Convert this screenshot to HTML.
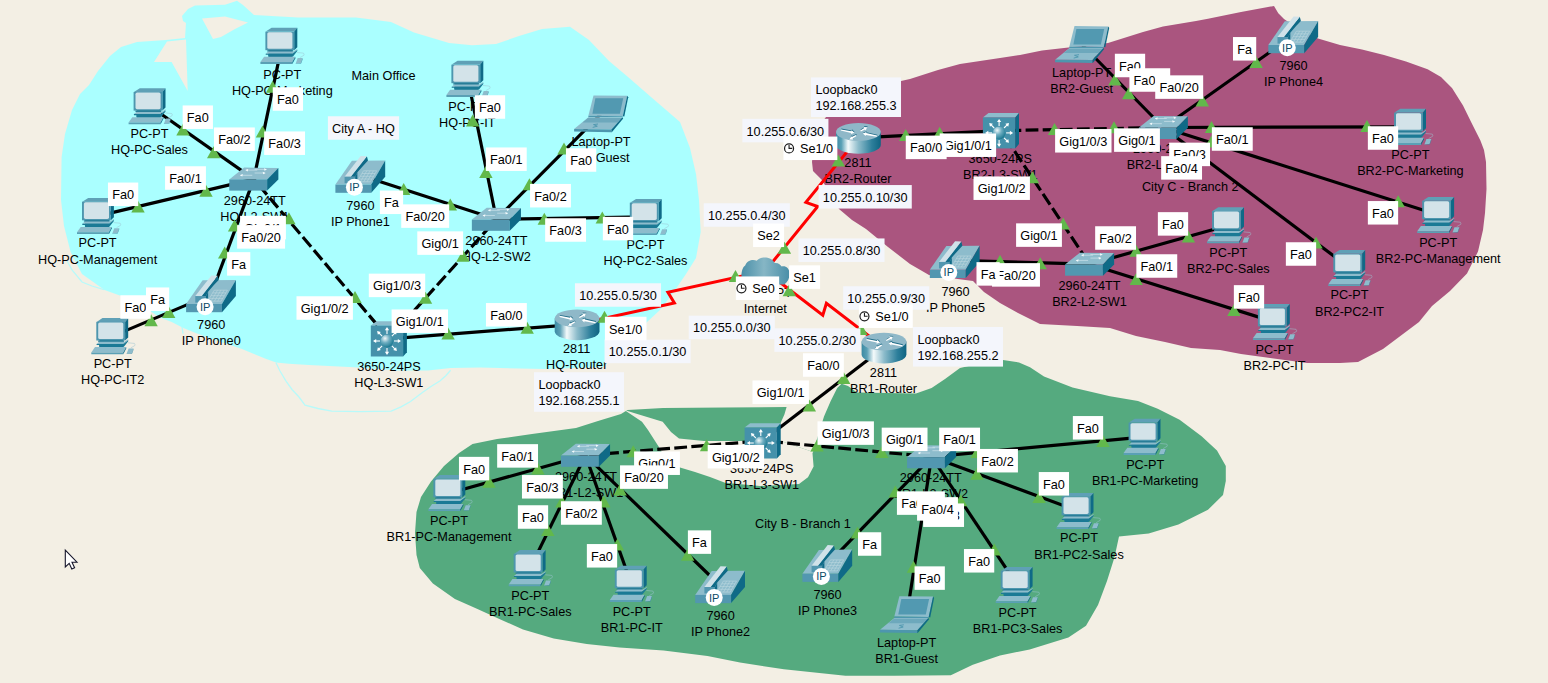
<!DOCTYPE html><html><head><meta charset="utf-8"><title>Topology</title><style>html,body{margin:0;padding:0;background:#f3efe4;overflow:hidden}body{width:1548px;height:683px;position:relative;font-family:"Liberation Sans",sans-serif;font-size:12.7px;color:#000}svg{position:absolute;left:0;top:0}svg text{font-family:"Liberation Sans",sans-serif}</style></head><body>
<svg width="1548" height="683" viewBox="0 0 1548 683">
<defs>
<linearGradient id="gfront" x1="0" y1="0" x2="1" y2="0"><stop offset="0" stop-color="#6da3b8"/><stop offset="1" stop-color="#4c8aa4"/></linearGradient>
<linearGradient id="grt" x1="0" y1="0" x2="1" y2="0"><stop offset="0" stop-color="#3b8aa3"/><stop offset="0.12" stop-color="#5aa0b5"/><stop offset="0.27" stop-color="#f4fafb"/><stop offset="0.5" stop-color="#8dbccb"/><stop offset="0.8" stop-color="#2d7f9b"/><stop offset="1" stop-color="#0f6482"/></linearGradient>
<linearGradient id="gcl" x1="0" y1="0" x2="1" y2="0"><stop offset="0" stop-color="#4a8fa8"/><stop offset="0.47" stop-color="#86b6c5"/><stop offset="1" stop-color="#4a8fa8"/></linearGradient>
<radialGradient id="gsph" cx="0.35" cy="0.3" r="0.75"><stop offset="0" stop-color="#f2f8fa"/><stop offset="0.45" stop-color="#6faec1"/><stop offset="1" stop-color="#17768f"/></radialGradient>
</defs>
<polygon points="188,9 195,5.6 225,4.8 237,0.8 243,5 254,15 298,17.4 356,17.4 391,22 414,32.6 449,43 472,45.3 496,44 519,36 542,29 570,26.7 589,40 609,61 628,77 651,97 680,122 690,148 696,174 699,200 700.7,232 696,258 686,274 673,293 660,310 647,322 630,340 615,355 603,367 545,369 480,367.5 450.6,368 428,370.5 398.6,370.5 354,367.3 309,365 288.8,363.8 276,362.6 265,358.5 254,354 242,349 230,345 215,340 195,332.8 183.4,328 171.7,322 160,317.6 150,311 140,305 124,297 104.5,290 82,274 70.6,252 64,226 61,200 61.6,157 65,134 72,110 80,94 89,85 98,71 110,56 121,47 137,42 166,40 185,38 186,23 183,21 182,16" fill="#aaffff" />
<polygon points="1020,55 1042,50.6 1108,43 1143,32 1163,26.5 1196,21 1208,18.7 1241,12 1274,6 1278.3,13.2 1284,19 1300,30 1318,38.4 1340,45 1362,49.4 1384,55 1406,61.5 1427.6,69.2 1441,77 1452,88 1463,105.4 1471.6,123 1480.4,140.6 1484,150 1486,162 1486.5,189 1485,213 1483,230 1478,251.5 1467,273.5 1450,291 1432,306 1419,322 1399,337 1383,349 1358,362 1340,363 1307,363 1241,354 1220,350 1191,348 1165,342 1136,336 1110,328 1077,326 1040,324 1018,313 1000,303 984,292 973,281 950,278 929,275 910,264 888,247 866,229 852,220 839,209 822,180 813,171 812,162 814,140 820,125 826,117 835,105 860,92 901,81 910,79 938,70 960,64 1000,58" fill="#aa557f" />
<polygon points="416.5,512 421,497 431,481.5 444,466 459,453 472.5,444 497,439 532,434 576,428 598,421 621,414 627.5,410 663,408 725,407.5 786.6,407 784.4,414.4 780.5,423.2 781,441 813,452 824,416.6 830.6,401.3 837.2,388.1 841.6,383.7 848,386 857,392.5 916,393.6 931.6,388 945,379 960,368 982,363 1003,360 1019,362.5 1030,367.2 1044,376.4 1072.5,387.4 1110,396.2 1138,401 1157.7,408.8 1179.6,419.8 1201.6,436.2 1217,450.5 1225.8,465.9 1225.8,481.3 1226,480 1223,495 1208,509.7 1178.4,524.6 1148.7,533.5 1119,536.5 1114.5,557.3 1107,581 1098,605 1086,625.7 1068.4,637.6 1029.7,649.5 1000,655.4 972.8,664.8 950.8,675.3 893.7,675.8 845.4,675.8 783.9,669.2 740,662.6 707.5,656 663.6,650.5 619.6,647.6 586.7,643.9 553.7,638.4 523,629.6 498.8,618.7 476.9,608.8 454.9,598.9 432.9,583.5 419.8,568.1 416.5,555 415,533" fill="#55aa7f" />
<polygon points="745,441 704,441 679,438.6 671,432 662.7,421.7 634,413 624.4,410 642,421.7 648,430 654.4,440 658.6,446.5 665,458 680,467.5 695,472 710,477 725,482.7 760,486 799,483.9 808,477.3 813.6,466.4 812.5,453.2 813,452 781,441 781,423 770,441" fill="#f3efe4" />
<polygon points="167,41.5 154,62 171.6,62 187.7,91 186,39.5" fill="#f3efe4" />
<polygon points="202,18.5 225,16.5 248,22.5 235,29 221,37 213,39" fill="#f3efe4" />
<polyline points="66.6,260 72,270 82,282 92,286 104,289.7" fill="none" stroke="#b8fafa" stroke-width="1.3"/>
<polyline points="182,327 183,333.6" fill="none" stroke="#b8fafa" stroke-width="1.3"/>
<polyline points="276,362.8 280,371 285.7,380.7 292,389.5 299,397 305,405.2 318,408.5 331.7,411.1 360,411.6 391.2,411.1 401,406.8 410.5,401.5 422.4,392.5 431,386.5 440.2,380.7 446,375.5 450.6,370.3" fill="none" stroke="#b8fafa" stroke-width="1.3"/>
<g font-size="12.7" text-anchor="middle" fill="#000">
<text x="282.3" y="78.5">PC-PT</text>
<text x="282.3" y="94.5">HQ-PC-Marketing</text>
<text x="149.5" y="137.8">PC-PT</text>
<text x="149.5" y="154.2">HQ-PC-Sales</text>
<text x="97.6" y="247.4">PC-PT</text>
<text x="97.6" y="264.1">HQ-PC-Management</text>
<text x="112.7" y="367.9">PC-PT</text>
<text x="112.7" y="384.4">HQ-PC-IT2</text>
<text x="211.2" y="328.8">7960</text>
<text x="211.2" y="345.2">IP Phone0</text>
<text x="254.8" y="205.2">2960-24TT</text>
<text x="254.8" y="221.2">HQ-L2-SW1</text>
<text x="360.4" y="209.6">7960</text>
<text x="360.4" y="226.1">IP Phone1</text>
<text x="467.3" y="111.0">PC-PT</text>
<text x="467.3" y="127.0">HQ-PC-IT</text>
<text x="601" y="146.2">Laptop-PT</text>
<text x="601" y="162.2">HQ-Guest</text>
<text x="496.4" y="244.8">2960-24TT</text>
<text x="496.4" y="261.2">HQ-L2-SW2</text>
<text x="645.5" y="249.2">PC-PT</text>
<text x="645.5" y="265.2">HQ-PC2-Sales</text>
<text x="388.9" y="370.8">3650-24PS</text>
<text x="388.9" y="387.2">HQ-L3-SW1</text>
<text x="576.7" y="353.1">2811</text>
<text x="576.7" y="369.2">HQ-Router</text>
<text x="765.3" y="297.2">Cloud-PT</text>
<text x="765.3" y="313.4">Internet</text>
<text x="858" y="166.8">2811</text>
<text x="858" y="183.3">BR2-Router</text>
<text x="883.5" y="376.9">2811</text>
<text x="883.5" y="393.1">BR1-Router</text>
<text x="1000.3" y="162.7">3650-24PS</text>
<text x="1000.3" y="178.7">BR2-L3-SW1</text>
<text x="1164" y="152.8">2960-24TT</text>
<text x="1164" y="168.9">BR2-L2-SW2</text>
<text x="1081.7" y="77.2">Laptop-PT</text>
<text x="1081.7" y="93.2">BR2-Guest</text>
<text x="1293.5" y="69.5">7960</text>
<text x="1293.5" y="85.5">IP Phone4</text>
<text x="1410.4" y="158.8">PC-PT</text>
<text x="1410.4" y="175.4">BR2-PC-Marketing</text>
<text x="1438.2" y="246.9">PC-PT</text>
<text x="1438.2" y="263.1">BR2-PC-Management</text>
<text x="1349.5" y="299.4">PC-PT</text>
<text x="1349.5" y="315.9">BR2-PC2-IT</text>
<text x="1228.3" y="256.8">PC-PT</text>
<text x="1228.3" y="273.2">BR2-PC-Sales</text>
<text x="1089.5" y="290.1">2960-24TT</text>
<text x="1089.5" y="306.1">BR2-L2-SW1</text>
<text x="955.5" y="295.8">7960</text>
<text x="955.5" y="312.2">IP Phone5</text>
<text x="1274.6" y="353.6">PC-PT</text>
<text x="1274.6" y="370.1">BR2-PC-IT</text>
<text x="761.8" y="473.1">3650-24PS</text>
<text x="761.8" y="489.1">BR1-L3-SW1</text>
<text x="586" y="480.6">2960-24TT</text>
<text x="586" y="497.1">BR1-L2-SW1</text>
<text x="930.8" y="481.9">2960-24TT</text>
<text x="930.8" y="498.4">BR1-L2-SW2</text>
<text x="449" y="524.5">PC-PT</text>
<text x="449" y="541.0">BR1-PC-Management</text>
<text x="530.3" y="599.5">PC-PT</text>
<text x="530.3" y="616.0">BR1-PC-Sales</text>
<text x="631.7" y="615.6">PC-PT</text>
<text x="631.7" y="632.0">BR1-PC-IT</text>
<text x="720.6" y="619.5">7960</text>
<text x="720.6" y="635.9">IP Phone2</text>
<text x="827.5" y="598.5">7960</text>
<text x="827.5" y="614.5">IP Phone3</text>
<text x="906.6" y="646.9">Laptop-PT</text>
<text x="906.6" y="662.9">BR1-Guest</text>
<text x="1017.6" y="616.8">PC-PT</text>
<text x="1017.6" y="632.8">BR1-PC3-Sales</text>
<text x="1079" y="542.4">PC-PT</text>
<text x="1079" y="558.9">BR1-PC2-Sales</text>
<text x="1145.2" y="468.8">PC-PT</text>
<text x="1145.2" y="485.2">BR1-PC-Marketing</text>
</g>
<line x1="281.8" y1="45.8" x2="253.8" y2="179.1" stroke="#000" stroke-width="3.2"/>
<line x1="150" y1="106.2" x2="253.8" y2="179.1" stroke="#000" stroke-width="3.2"/>
<line x1="98.4" y1="215.9" x2="253.8" y2="179.1" stroke="#000" stroke-width="3.2"/>
<line x1="211" y1="294.6" x2="253.8" y2="179.1" stroke="#000" stroke-width="3.2"/>
<line x1="112.7" y1="336.1" x2="211" y2="294.6" stroke="#000" stroke-width="3.2"/>
<line x1="253.8" y1="179.1" x2="388.9" y2="338.8" stroke="#000" stroke-width="3.2" stroke-dasharray="12.8,4.3" stroke-dashoffset="9.6"/>
<line x1="496.4" y1="219.3" x2="388.9" y2="338.8" stroke="#000" stroke-width="3.2" stroke-dasharray="12.8,4.3" stroke-dashoffset="9.6"/>
<line x1="360.3" y1="175.2" x2="496.4" y2="219.3" stroke="#000" stroke-width="3.2"/>
<line x1="467.8" y1="78.8" x2="496.4" y2="219.3" stroke="#000" stroke-width="3.2"/>
<line x1="601" y1="113.8" x2="496.4" y2="219.3" stroke="#000" stroke-width="3.2"/>
<line x1="646.2" y1="216.9" x2="496.4" y2="219.3" stroke="#000" stroke-width="3.2"/>
<line x1="388.9" y1="338.8" x2="577.1" y2="324.3" stroke="#000" stroke-width="3.2"/>
<polyline points="577.1,324.3 674.4,303.0 667.9,292.3 765.2,271" fill="none" stroke="#ff0000" stroke-width="3" stroke-linejoin="miter"/>
<polyline points="765.2,271 817.7,206.5 805.9,202.4 858.4,137.9" fill="none" stroke="#ff0000" stroke-width="3" stroke-linejoin="miter"/>
<polyline points="765.2,271 822.8,315.2 826.4,303.3 884,347.5" fill="none" stroke="#ff0000" stroke-width="3" stroke-linejoin="miter"/>
<line x1="858.4" y1="137.9" x2="1001" y2="130.7" stroke="#000" stroke-width="3.2"/>
<line x1="1001" y1="130.7" x2="1163.3" y2="127.5" stroke="#000" stroke-width="3.2" stroke-dasharray="12.8,4.3" stroke-dashoffset="9.6"/>
<line x1="1001" y1="130.7" x2="1089.6" y2="264.2" stroke="#000" stroke-width="3.2" stroke-dasharray="12.8,4.3" stroke-dashoffset="9.6"/>
<line x1="1082" y1="44.5" x2="1163.3" y2="127.5" stroke="#000" stroke-width="3.2"/>
<line x1="1293.2" y1="35.6" x2="1163.3" y2="127.5" stroke="#000" stroke-width="3.2"/>
<line x1="1410.5" y1="126.8" x2="1163.3" y2="127.5" stroke="#000" stroke-width="3.2"/>
<line x1="1438.6" y1="214.9" x2="1163.3" y2="127.5" stroke="#000" stroke-width="3.2"/>
<line x1="1349.7" y1="268" x2="1163.3" y2="127.5" stroke="#000" stroke-width="3.2"/>
<line x1="954.7" y1="260.4" x2="1089.6" y2="264.2" stroke="#000" stroke-width="3.2"/>
<line x1="1228.5" y1="225.2" x2="1089.6" y2="264.2" stroke="#000" stroke-width="3.2"/>
<line x1="1274.3" y1="322" x2="1089.6" y2="264.2" stroke="#000" stroke-width="3.2"/>
<line x1="884" y1="347.5" x2="762.7" y2="440.8" stroke="#000" stroke-width="3.2"/>
<line x1="762.7" y1="440.8" x2="585.5" y2="455.3" stroke="#000" stroke-width="3.2" stroke-dasharray="12.8,4.3" stroke-dashoffset="9.6"/>
<line x1="762.7" y1="440.8" x2="931.6" y2="456.8" stroke="#000" stroke-width="3.2" stroke-dasharray="12.8,4.3" stroke-dashoffset="9.6"/>
<line x1="449.8" y1="493" x2="585.5" y2="455.3" stroke="#000" stroke-width="3.2"/>
<line x1="530.1" y1="568.1" x2="585.5" y2="455.3" stroke="#000" stroke-width="3.2"/>
<line x1="631.2" y1="583.8" x2="585.5" y2="455.3" stroke="#000" stroke-width="3.2"/>
<line x1="720.1" y1="585.5" x2="585.5" y2="455.3" stroke="#000" stroke-width="3.2"/>
<line x1="827.3" y1="564.3" x2="931.6" y2="456.8" stroke="#000" stroke-width="3.2"/>
<line x1="906.9" y1="614.6" x2="931.6" y2="456.8" stroke="#000" stroke-width="3.2"/>
<line x1="1017.1" y1="584.9" x2="931.6" y2="456.8" stroke="#000" stroke-width="3.2"/>
<line x1="1078" y1="510.9" x2="931.6" y2="456.8" stroke="#000" stroke-width="3.2"/>
<line x1="1145" y1="436.8" x2="931.6" y2="456.8" stroke="#000" stroke-width="3.2"/>
<g transform="translate(281.8,45.8)"><g transform="translate(0.7,0)"><rect x="-14" y="3" width="24" height="9" fill="#1b7a95"/><polygon points="-16.8,-14.2 -10.9,-18 14.8,-18 11.7,-14.2" fill="#5fa0b6"/><polygon points="11.7,-14.2 14.8,-18 14.8,1.4 11.7,4.4" fill="#0f6a87"/><rect x="-17.1" y="-14.2" width="28.8" height="18.6" fill="#4d96ae"/><rect x="-15.2" y="-13.6" width="25.1" height="16.6" rx="1.6" fill="#d3e3e9"/><rect x="-15.2" y="4.4" width="25.8" height="1.4" fill="#2a7d97"/><polygon points="-16.8,7.9 -14.2,5.7 10.9,5.7 14.8,3.1 14.8,4.2 9.9,7.9" fill="#8dbccc"/><polygon points="-16.8,7.9 9.9,7.9 14.8,4.2 14.8,5.2 10.5,10.7 -14.2,10.7 -14.2,9 -16.8,9" fill="#1b7a95"/><polygon points="-22.1,16.3 -18.4,11 12.8,11 9.9,16.3" fill="#8dbccc"/><polygon points="-22.1,16.3 9.9,16.3 9.9,18.1 -22.1,18.1" fill="#5aa0b5"/><polygon points="9.9,16.3 12.8,11 12.8,12.4 9.9,18.1" fill="#0f6a87"/><polygon points="13.2,17.6 15.2,12.3 20.1,12.3 18.4,17.2" fill="#8dbccc"/><polygon points="18.4,17.2 20.1,12.3 20.1,13.6 18.6,17.6 13.2,17.9 13.2,17.6" fill="#3d8aa4"/><path d="M14.5,6.7 l6.5,0.6 q1,1.2 0.4,2.2 l-4,2.3" fill="none" stroke="#9cc3d2" stroke-width="0.6" opacity="0.85"/></g></g>
<g transform="translate(150,106.2)"><g transform="translate(0.7,0)"><rect x="-14" y="3" width="24" height="9" fill="#1b7a95"/><polygon points="-16.8,-14.2 -10.9,-18 14.8,-18 11.7,-14.2" fill="#5fa0b6"/><polygon points="11.7,-14.2 14.8,-18 14.8,1.4 11.7,4.4" fill="#0f6a87"/><rect x="-17.1" y="-14.2" width="28.8" height="18.6" fill="#4d96ae"/><rect x="-15.2" y="-13.6" width="25.1" height="16.6" rx="1.6" fill="#d3e3e9"/><rect x="-15.2" y="4.4" width="25.8" height="1.4" fill="#2a7d97"/><polygon points="-16.8,7.9 -14.2,5.7 10.9,5.7 14.8,3.1 14.8,4.2 9.9,7.9" fill="#8dbccc"/><polygon points="-16.8,7.9 9.9,7.9 14.8,4.2 14.8,5.2 10.5,10.7 -14.2,10.7 -14.2,9 -16.8,9" fill="#1b7a95"/><polygon points="-22.1,16.3 -18.4,11 12.8,11 9.9,16.3" fill="#8dbccc"/><polygon points="-22.1,16.3 9.9,16.3 9.9,18.1 -22.1,18.1" fill="#5aa0b5"/><polygon points="9.9,16.3 12.8,11 12.8,12.4 9.9,18.1" fill="#0f6a87"/><polygon points="13.2,17.6 15.2,12.3 20.1,12.3 18.4,17.2" fill="#8dbccc"/><polygon points="18.4,17.2 20.1,12.3 20.1,13.6 18.6,17.6 13.2,17.9 13.2,17.6" fill="#3d8aa4"/><path d="M14.5,6.7 l6.5,0.6 q1,1.2 0.4,2.2 l-4,2.3" fill="none" stroke="#9cc3d2" stroke-width="0.6" opacity="0.85"/></g></g>
<g transform="translate(98.4,215.9)"><g transform="translate(0.7,0)"><rect x="-14" y="3" width="24" height="9" fill="#1b7a95"/><polygon points="-16.8,-14.2 -10.9,-18 14.8,-18 11.7,-14.2" fill="#5fa0b6"/><polygon points="11.7,-14.2 14.8,-18 14.8,1.4 11.7,4.4" fill="#0f6a87"/><rect x="-17.1" y="-14.2" width="28.8" height="18.6" fill="#4d96ae"/><rect x="-15.2" y="-13.6" width="25.1" height="16.6" rx="1.6" fill="#d3e3e9"/><rect x="-15.2" y="4.4" width="25.8" height="1.4" fill="#2a7d97"/><polygon points="-16.8,7.9 -14.2,5.7 10.9,5.7 14.8,3.1 14.8,4.2 9.9,7.9" fill="#8dbccc"/><polygon points="-16.8,7.9 9.9,7.9 14.8,4.2 14.8,5.2 10.5,10.7 -14.2,10.7 -14.2,9 -16.8,9" fill="#1b7a95"/><polygon points="-22.1,16.3 -18.4,11 12.8,11 9.9,16.3" fill="#8dbccc"/><polygon points="-22.1,16.3 9.9,16.3 9.9,18.1 -22.1,18.1" fill="#5aa0b5"/><polygon points="9.9,16.3 12.8,11 12.8,12.4 9.9,18.1" fill="#0f6a87"/><polygon points="13.2,17.6 15.2,12.3 20.1,12.3 18.4,17.2" fill="#8dbccc"/><polygon points="18.4,17.2 20.1,12.3 20.1,13.6 18.6,17.6 13.2,17.9 13.2,17.6" fill="#3d8aa4"/><path d="M14.5,6.7 l6.5,0.6 q1,1.2 0.4,2.2 l-4,2.3" fill="none" stroke="#9cc3d2" stroke-width="0.6" opacity="0.85"/></g></g>
<g transform="translate(112.7,336.1)"><g transform="translate(0.7,0)"><rect x="-14" y="3" width="24" height="9" fill="#1b7a95"/><polygon points="-16.8,-14.2 -10.9,-18 14.8,-18 11.7,-14.2" fill="#5fa0b6"/><polygon points="11.7,-14.2 14.8,-18 14.8,1.4 11.7,4.4" fill="#0f6a87"/><rect x="-17.1" y="-14.2" width="28.8" height="18.6" fill="#4d96ae"/><rect x="-15.2" y="-13.6" width="25.1" height="16.6" rx="1.6" fill="#d3e3e9"/><rect x="-15.2" y="4.4" width="25.8" height="1.4" fill="#2a7d97"/><polygon points="-16.8,7.9 -14.2,5.7 10.9,5.7 14.8,3.1 14.8,4.2 9.9,7.9" fill="#8dbccc"/><polygon points="-16.8,7.9 9.9,7.9 14.8,4.2 14.8,5.2 10.5,10.7 -14.2,10.7 -14.2,9 -16.8,9" fill="#1b7a95"/><polygon points="-22.1,16.3 -18.4,11 12.8,11 9.9,16.3" fill="#8dbccc"/><polygon points="-22.1,16.3 9.9,16.3 9.9,18.1 -22.1,18.1" fill="#5aa0b5"/><polygon points="9.9,16.3 12.8,11 12.8,12.4 9.9,18.1" fill="#0f6a87"/><polygon points="13.2,17.6 15.2,12.3 20.1,12.3 18.4,17.2" fill="#8dbccc"/><polygon points="18.4,17.2 20.1,12.3 20.1,13.6 18.6,17.6 13.2,17.9 13.2,17.6" fill="#3d8aa4"/><path d="M14.5,6.7 l6.5,0.6 q1,1.2 0.4,2.2 l-4,2.3" fill="none" stroke="#9cc3d2" stroke-width="0.6" opacity="0.85"/></g></g>
<g transform="translate(211,294.6)"><g transform="translate(0,0.5)"><polygon points="-24.9,8.9 -8.4,-14.9 24.9,-15.2 11,8.9" fill="#8dbccc"/><rect x="-24.9" y="8.9" width="35.9" height="8.2" fill="#5297b0"/><polygon points="11,8.9 24.9,-15.2 24.9,1 11,17.1" fill="#0f6a87"/><polygon points="6.6,-19.4 7.7,-15.2 2.9,-10 -2.9,-3.4 -5.1,1 -9.5,1.1" fill="#0f6a87"/><polygon points="-15.7,1 0.4,-19.7 6.6,-19.4 -9.5,1.1" fill="#d0e2e9"/><polygon points="-15.7,1 -5.1,1 -5.1,7.5 -15.7,7.5" fill="#5297b0"/><polygon points="-5.1,1 -2.9,-3.4 -2.9,4 -5.1,7.5" fill="#0f6a87"/><g stroke="#bcd6df" stroke-width="0.6" fill="none"><line x1="3.2" y1="-4.9" x2="-3.2" y2="6.1"/><line x1="6.5" y1="-4.9" x2="0.1" y2="6.1"/><line x1="9.8" y1="-4.9" x2="3.4" y2="6.1"/><line x1="13.1" y1="-4.9" x2="6.7" y2="6.1"/><line x1="16.4" y1="-4.9" x2="10.0" y2="6.1"/><line x1="3.2" y1="-4.9" x2="16.4" y2="-4.9"/><line x1="1.6" y1="-2.2" x2="14.8" y2="-2.2"/><line x1="0.0" y1="0.6" x2="13.2" y2="0.6"/><line x1="-1.6" y1="3.3" x2="11.6" y2="3.3"/><line x1="-3.2" y1="6.1" x2="10.0" y2="6.1"/></g><circle cx="-5.9" cy="11.6" r="8.5" fill="#ffffff"/><text x="-5.9" y="15.6" font-size="11" text-anchor="middle" fill="#0a4a66" font-family="Liberation Sans, sans-serif">IP</text></g></g>
<g transform="translate(253.8,179.1)"><polygon points="-24.55,0.3 -9.7,-11.55 24.55,-11.2 13.35,0.3" fill="#8dbccc"/><rect x="-24.55" y="0.3" width="37.9" height="11.2" fill="#5297b0"/><polygon points="13.35,0.3 24.55,-11.2 24.55,0.3 13.35,11.5" fill="#0f6a87"/><g stroke="#d9eaf0" stroke-width="0.6" fill="#f4fafc"><line x1="-8" y1="-9.0" x2="3.5" y2="-9.0"/><polygon stroke="none" points="-8.5,-9.0 -5.6,-10.2 -6.1,-7.7"/><line x1="0.8" y1="-9.7" x2="12.6" y2="-9.7"/><polygon stroke="none" points="13.1,-9.7 10.2,-10.9 10.7,-8.4"/><line x1="-13.4" y1="-3.8" x2="-1.5" y2="-3.8"/><polygon stroke="none" points="-13.9,-3.8 -11.0,-5.0 -11.5,-2.5"/><line x1="0.8" y1="-6.1" x2="11.3" y2="-6.1"/><polygon stroke="none" points="11.8,-6.1 8.9,-7.3 9.4,-4.8"/></g></g>
<g transform="translate(360.3,175.2)"><g transform="translate(0,0.5)"><polygon points="-24.9,8.9 -8.4,-14.9 24.9,-15.2 11,8.9" fill="#8dbccc"/><rect x="-24.9" y="8.9" width="35.9" height="8.2" fill="#5297b0"/><polygon points="11,8.9 24.9,-15.2 24.9,1 11,17.1" fill="#0f6a87"/><polygon points="6.6,-19.4 7.7,-15.2 2.9,-10 -2.9,-3.4 -5.1,1 -9.5,1.1" fill="#0f6a87"/><polygon points="-15.7,1 0.4,-19.7 6.6,-19.4 -9.5,1.1" fill="#d0e2e9"/><polygon points="-15.7,1 -5.1,1 -5.1,7.5 -15.7,7.5" fill="#5297b0"/><polygon points="-5.1,1 -2.9,-3.4 -2.9,4 -5.1,7.5" fill="#0f6a87"/><g stroke="#bcd6df" stroke-width="0.6" fill="none"><line x1="3.2" y1="-4.9" x2="-3.2" y2="6.1"/><line x1="6.5" y1="-4.9" x2="0.1" y2="6.1"/><line x1="9.8" y1="-4.9" x2="3.4" y2="6.1"/><line x1="13.1" y1="-4.9" x2="6.7" y2="6.1"/><line x1="16.4" y1="-4.9" x2="10.0" y2="6.1"/><line x1="3.2" y1="-4.9" x2="16.4" y2="-4.9"/><line x1="1.6" y1="-2.2" x2="14.8" y2="-2.2"/><line x1="0.0" y1="0.6" x2="13.2" y2="0.6"/><line x1="-1.6" y1="3.3" x2="11.6" y2="3.3"/><line x1="-3.2" y1="6.1" x2="10.0" y2="6.1"/></g><circle cx="-5.9" cy="11.6" r="8.5" fill="#ffffff"/><text x="-5.9" y="15.6" font-size="11" text-anchor="middle" fill="#0a4a66" font-family="Liberation Sans, sans-serif">IP</text></g></g>
<g transform="translate(467.8,78.8)"><g transform="translate(0.7,0)"><rect x="-14" y="3" width="24" height="9" fill="#1b7a95"/><polygon points="-16.8,-14.2 -10.9,-18 14.8,-18 11.7,-14.2" fill="#5fa0b6"/><polygon points="11.7,-14.2 14.8,-18 14.8,1.4 11.7,4.4" fill="#0f6a87"/><rect x="-17.1" y="-14.2" width="28.8" height="18.6" fill="#4d96ae"/><rect x="-15.2" y="-13.6" width="25.1" height="16.6" rx="1.6" fill="#d3e3e9"/><rect x="-15.2" y="4.4" width="25.8" height="1.4" fill="#2a7d97"/><polygon points="-16.8,7.9 -14.2,5.7 10.9,5.7 14.8,3.1 14.8,4.2 9.9,7.9" fill="#8dbccc"/><polygon points="-16.8,7.9 9.9,7.9 14.8,4.2 14.8,5.2 10.5,10.7 -14.2,10.7 -14.2,9 -16.8,9" fill="#1b7a95"/><polygon points="-22.1,16.3 -18.4,11 12.8,11 9.9,16.3" fill="#8dbccc"/><polygon points="-22.1,16.3 9.9,16.3 9.9,18.1 -22.1,18.1" fill="#5aa0b5"/><polygon points="9.9,16.3 12.8,11 12.8,12.4 9.9,18.1" fill="#0f6a87"/><polygon points="13.2,17.6 15.2,12.3 20.1,12.3 18.4,17.2" fill="#8dbccc"/><polygon points="18.4,17.2 20.1,12.3 20.1,13.6 18.6,17.6 13.2,17.9 13.2,17.6" fill="#3d8aa4"/><path d="M14.5,6.7 l6.5,0.6 q1,1.2 0.4,2.2 l-4,2.3" fill="none" stroke="#9cc3d2" stroke-width="0.6" opacity="0.85"/></g></g>
<g transform="translate(601,113.8)"><polygon points="-7.5,-18.4 26.2,-18.1 21.8,2.4 -12.6,2" fill="#8dbccc"/><polygon points="-5.6,-15.5 22.2,-15.5 18.9,-0.1 -8.6,-0.1" fill="#5299b1"/><polygon points="26.2,-18.1 27.2,-16.6 23.3,2.8 21.8,2.4" fill="#0f6a87"/><polygon points="-12.6,2 21.8,2.4 21.4,3.5 -12.6,3.5" fill="#4d96ae"/><polygon points="-12.6,3.5 21.4,3.5 10.5,15.6 -26.9,15.2" fill="#8dbccc"/><polygon points="-13,4.2 21,4.2 16.3,8.6 -18.4,8.6" fill="#6da8bc"/><polygon points="-26.9,15.2 10.5,15.6 10.5,18.5 -26.9,17.8" fill="#4d96ae"/><polygon points="21.4,3.5 22.2,4.6 10.8,18.5 10.5,18.5 10.5,15.6" fill="#0f6a87"/><path d="M-3,10.2 l-4.5,0.6 l3.8,1.6 l-4.6,1.2" stroke="#4d96ae" stroke-width="0.9" fill="none"/></g>
<g transform="translate(496.4,219.3)"><polygon points="-24.55,0.3 -9.7,-11.55 24.55,-11.2 13.35,0.3" fill="#8dbccc"/><rect x="-24.55" y="0.3" width="37.9" height="11.2" fill="#5297b0"/><polygon points="13.35,0.3 24.55,-11.2 24.55,0.3 13.35,11.5" fill="#0f6a87"/><g stroke="#d9eaf0" stroke-width="0.6" fill="#f4fafc"><line x1="-8" y1="-9.0" x2="3.5" y2="-9.0"/><polygon stroke="none" points="-8.5,-9.0 -5.6,-10.2 -6.1,-7.7"/><line x1="0.8" y1="-9.7" x2="12.6" y2="-9.7"/><polygon stroke="none" points="13.1,-9.7 10.2,-10.9 10.7,-8.4"/><line x1="-13.4" y1="-3.8" x2="-1.5" y2="-3.8"/><polygon stroke="none" points="-13.9,-3.8 -11.0,-5.0 -11.5,-2.5"/><line x1="0.8" y1="-6.1" x2="11.3" y2="-6.1"/><polygon stroke="none" points="11.8,-6.1 8.9,-7.3 9.4,-4.8"/></g></g>
<g transform="translate(646.2,216.9)"><g transform="translate(0.7,0)"><rect x="-14" y="3" width="24" height="9" fill="#1b7a95"/><polygon points="-16.8,-14.2 -10.9,-18 14.8,-18 11.7,-14.2" fill="#5fa0b6"/><polygon points="11.7,-14.2 14.8,-18 14.8,1.4 11.7,4.4" fill="#0f6a87"/><rect x="-17.1" y="-14.2" width="28.8" height="18.6" fill="#4d96ae"/><rect x="-15.2" y="-13.6" width="25.1" height="16.6" rx="1.6" fill="#d3e3e9"/><rect x="-15.2" y="4.4" width="25.8" height="1.4" fill="#2a7d97"/><polygon points="-16.8,7.9 -14.2,5.7 10.9,5.7 14.8,3.1 14.8,4.2 9.9,7.9" fill="#8dbccc"/><polygon points="-16.8,7.9 9.9,7.9 14.8,4.2 14.8,5.2 10.5,10.7 -14.2,10.7 -14.2,9 -16.8,9" fill="#1b7a95"/><polygon points="-22.1,16.3 -18.4,11 12.8,11 9.9,16.3" fill="#8dbccc"/><polygon points="-22.1,16.3 9.9,16.3 9.9,18.1 -22.1,18.1" fill="#5aa0b5"/><polygon points="9.9,16.3 12.8,11 12.8,12.4 9.9,18.1" fill="#0f6a87"/><polygon points="13.2,17.6 15.2,12.3 20.1,12.3 18.4,17.2" fill="#8dbccc"/><polygon points="18.4,17.2 20.1,12.3 20.1,13.6 18.6,17.6 13.2,17.9 13.2,17.6" fill="#3d8aa4"/><path d="M14.5,6.7 l6.5,0.6 q1,1.2 0.4,2.2 l-4,2.3" fill="none" stroke="#9cc3d2" stroke-width="0.6" opacity="0.85"/></g></g>
<g transform="translate(388.9,338.8)"><polygon points="-18.1,-13.3 -12.5,-17.6 18,-17.6 14.2,-13.3" fill="#8dbccc"/><rect x="-18.1" y="-13.3" width="32.3" height="31" fill="#4591aa"/><polygon points="14.2,-13.3 18,-17.6 18,13.4 14.2,17.7" fill="#0f6a87"/><g stroke="#ffffff" stroke-width="1.1" fill="#ffffff"><line x1="5.1" y1="2.2" x2="10.5" y2="2.2"/><polygon stroke="none" points="12.1,2.2 8.9,4.3 8.9,0.1"/><line x1="3.0" y1="7.1" x2="6.9" y2="11.0"/><polygon stroke="none" points="8.0,12.1 4.3,11.3 7.2,8.4"/><line x1="-1.9" y1="9.2" x2="-1.9" y2="14.6"/><polygon stroke="none" points="-1.9,16.2 -4.0,13.0 0.2,13.0"/><line x1="-6.8" y1="7.1" x2="-10.7" y2="11.0"/><polygon stroke="none" points="-11.8,12.1 -11.0,8.4 -8.1,11.3"/><line x1="-8.9" y1="2.2" x2="-14.3" y2="2.2"/><polygon stroke="none" points="-15.9,2.2 -12.7,0.1 -12.7,4.3"/><line x1="-6.8" y1="-2.7" x2="-10.7" y2="-6.6"/><polygon stroke="none" points="-11.8,-7.7 -8.1,-6.9 -11.0,-4.0"/><line x1="-1.9" y1="-4.8" x2="-1.9" y2="-10.2"/><polygon stroke="none" points="-1.9,-11.8 0.2,-8.6 -4.0,-8.6"/><line x1="3.0" y1="-2.7" x2="6.9" y2="-6.6"/><polygon stroke="none" points="8.0,-7.7 7.2,-4.0 4.3,-6.9"/></g><circle cx="-1.9" cy="2.2" r="6.4" fill="url(#gsph)"/></g>
<g transform="translate(577.1,324.3)"><g transform="translate(0,0.5)"><path d="M-22.4,-6.4 v12.9 a22.4,8.9 0 0 0 44.8,0 v-12.9 z" fill="url(#grt)"/><ellipse cx="0" cy="-6.4" rx="22.4" ry="8.9" fill="#8fb8c8"/><polygon points="-17.6,-9.0 -7.3,-6.6 -7.5,-5.5 -4.0,-6.8 -6.7,-9.4 -7.0,-8.3 -17.4,-10.2" fill="#246f8a" transform="translate(0.3,0.3)"/><polygon points="18.6,-4.0 7.8,-6.5 8.0,-7.5 4.5,-6.2 7.2,-3.6 7.5,-4.7 18.4,-2.8" fill="#246f8a" transform="translate(0.3,0.3)"/><polygon points="2.5,-8.1 6.6,-10.1 7.2,-9.1 9.0,-12.4 5.2,-12.6 5.8,-11.6 1.9,-9.1" fill="#246f8a" transform="translate(0.3,0.3)"/><polygon points="-2.5,-4.7 -6.7,-2.6 -7.2,-3.5 -9.0,-0.2 -5.2,-0.1 -5.8,-1.0 -1.9,-3.7" fill="#246f8a" transform="translate(0.3,0.3)"/><polygon points="-17.6,-9.0 -7.3,-6.6 -7.5,-5.5 -4.0,-6.8 -6.7,-9.4 -7.0,-8.3 -17.4,-10.2" fill="#ffffff" transform="translate(0,1.2)"/><polygon points="18.6,-4.0 7.8,-6.5 8.0,-7.5 4.5,-6.2 7.2,-3.6 7.5,-4.7 18.4,-2.8" fill="#ffffff" transform="translate(0,1.2)"/><polygon points="2.5,-8.1 6.6,-10.1 7.2,-9.1 9.0,-12.4 5.2,-12.6 5.8,-11.6 1.9,-9.1" fill="#ffffff" transform="translate(0,1.2)"/><polygon points="-2.5,-4.7 -6.7,-2.6 -7.2,-3.5 -9.0,-0.2 -5.2,-0.1 -5.8,-1.0 -1.9,-3.7" fill="#ffffff" transform="translate(0,1.2)"/></g></g>
<g transform="translate(765.2,271)"><path d="M-21,13.5 C-25,10 -24.5,-3 -20,-5.5 C-18,-11 -12,-12 -8.5,-10.3 C-5,-15 6,-15 9.5,-8 C13,-8.5 15.5,-6 16.5,-4.5 C21,-5.5 24.5,-2 24,2 C24.5,7 23,11 19,13.5 Z" fill="url(#gcl)"/></g>
<g transform="translate(858.4,137.9)"><g transform="translate(0,0.5)"><path d="M-22.4,-6.4 v12.9 a22.4,8.9 0 0 0 44.8,0 v-12.9 z" fill="url(#grt)"/><ellipse cx="0" cy="-6.4" rx="22.4" ry="8.9" fill="#8fb8c8"/><polygon points="-17.6,-9.0 -7.3,-6.6 -7.5,-5.5 -4.0,-6.8 -6.7,-9.4 -7.0,-8.3 -17.4,-10.2" fill="#246f8a" transform="translate(0.3,0.3)"/><polygon points="18.6,-4.0 7.8,-6.5 8.0,-7.5 4.5,-6.2 7.2,-3.6 7.5,-4.7 18.4,-2.8" fill="#246f8a" transform="translate(0.3,0.3)"/><polygon points="2.5,-8.1 6.6,-10.1 7.2,-9.1 9.0,-12.4 5.2,-12.6 5.8,-11.6 1.9,-9.1" fill="#246f8a" transform="translate(0.3,0.3)"/><polygon points="-2.5,-4.7 -6.7,-2.6 -7.2,-3.5 -9.0,-0.2 -5.2,-0.1 -5.8,-1.0 -1.9,-3.7" fill="#246f8a" transform="translate(0.3,0.3)"/><polygon points="-17.6,-9.0 -7.3,-6.6 -7.5,-5.5 -4.0,-6.8 -6.7,-9.4 -7.0,-8.3 -17.4,-10.2" fill="#ffffff" transform="translate(0,1.2)"/><polygon points="18.6,-4.0 7.8,-6.5 8.0,-7.5 4.5,-6.2 7.2,-3.6 7.5,-4.7 18.4,-2.8" fill="#ffffff" transform="translate(0,1.2)"/><polygon points="2.5,-8.1 6.6,-10.1 7.2,-9.1 9.0,-12.4 5.2,-12.6 5.8,-11.6 1.9,-9.1" fill="#ffffff" transform="translate(0,1.2)"/><polygon points="-2.5,-4.7 -6.7,-2.6 -7.2,-3.5 -9.0,-0.2 -5.2,-0.1 -5.8,-1.0 -1.9,-3.7" fill="#ffffff" transform="translate(0,1.2)"/></g></g>
<g transform="translate(884,347.5)"><g transform="translate(0,0.5)"><path d="M-22.4,-6.4 v12.9 a22.4,8.9 0 0 0 44.8,0 v-12.9 z" fill="url(#grt)"/><ellipse cx="0" cy="-6.4" rx="22.4" ry="8.9" fill="#8fb8c8"/><polygon points="-17.6,-9.0 -7.3,-6.6 -7.5,-5.5 -4.0,-6.8 -6.7,-9.4 -7.0,-8.3 -17.4,-10.2" fill="#246f8a" transform="translate(0.3,0.3)"/><polygon points="18.6,-4.0 7.8,-6.5 8.0,-7.5 4.5,-6.2 7.2,-3.6 7.5,-4.7 18.4,-2.8" fill="#246f8a" transform="translate(0.3,0.3)"/><polygon points="2.5,-8.1 6.6,-10.1 7.2,-9.1 9.0,-12.4 5.2,-12.6 5.8,-11.6 1.9,-9.1" fill="#246f8a" transform="translate(0.3,0.3)"/><polygon points="-2.5,-4.7 -6.7,-2.6 -7.2,-3.5 -9.0,-0.2 -5.2,-0.1 -5.8,-1.0 -1.9,-3.7" fill="#246f8a" transform="translate(0.3,0.3)"/><polygon points="-17.6,-9.0 -7.3,-6.6 -7.5,-5.5 -4.0,-6.8 -6.7,-9.4 -7.0,-8.3 -17.4,-10.2" fill="#ffffff" transform="translate(0,1.2)"/><polygon points="18.6,-4.0 7.8,-6.5 8.0,-7.5 4.5,-6.2 7.2,-3.6 7.5,-4.7 18.4,-2.8" fill="#ffffff" transform="translate(0,1.2)"/><polygon points="2.5,-8.1 6.6,-10.1 7.2,-9.1 9.0,-12.4 5.2,-12.6 5.8,-11.6 1.9,-9.1" fill="#ffffff" transform="translate(0,1.2)"/><polygon points="-2.5,-4.7 -6.7,-2.6 -7.2,-3.5 -9.0,-0.2 -5.2,-0.1 -5.8,-1.0 -1.9,-3.7" fill="#ffffff" transform="translate(0,1.2)"/></g></g>
<g transform="translate(1001,130.7)"><polygon points="-18.1,-13.3 -12.5,-17.6 18,-17.6 14.2,-13.3" fill="#8dbccc"/><rect x="-18.1" y="-13.3" width="32.3" height="31" fill="#4591aa"/><polygon points="14.2,-13.3 18,-17.6 18,13.4 14.2,17.7" fill="#0f6a87"/><g stroke="#ffffff" stroke-width="1.1" fill="#ffffff"><line x1="5.1" y1="2.2" x2="10.5" y2="2.2"/><polygon stroke="none" points="12.1,2.2 8.9,4.3 8.9,0.1"/><line x1="3.0" y1="7.1" x2="6.9" y2="11.0"/><polygon stroke="none" points="8.0,12.1 4.3,11.3 7.2,8.4"/><line x1="-1.9" y1="9.2" x2="-1.9" y2="14.6"/><polygon stroke="none" points="-1.9,16.2 -4.0,13.0 0.2,13.0"/><line x1="-6.8" y1="7.1" x2="-10.7" y2="11.0"/><polygon stroke="none" points="-11.8,12.1 -11.0,8.4 -8.1,11.3"/><line x1="-8.9" y1="2.2" x2="-14.3" y2="2.2"/><polygon stroke="none" points="-15.9,2.2 -12.7,0.1 -12.7,4.3"/><line x1="-6.8" y1="-2.7" x2="-10.7" y2="-6.6"/><polygon stroke="none" points="-11.8,-7.7 -8.1,-6.9 -11.0,-4.0"/><line x1="-1.9" y1="-4.8" x2="-1.9" y2="-10.2"/><polygon stroke="none" points="-1.9,-11.8 0.2,-8.6 -4.0,-8.6"/><line x1="3.0" y1="-2.7" x2="6.9" y2="-6.6"/><polygon stroke="none" points="8.0,-7.7 7.2,-4.0 4.3,-6.9"/></g><circle cx="-1.9" cy="2.2" r="6.4" fill="url(#gsph)"/></g>
<g transform="translate(1163.3,127.5)"><polygon points="-24.55,0.3 -9.7,-11.55 24.55,-11.2 13.35,0.3" fill="#8dbccc"/><rect x="-24.55" y="0.3" width="37.9" height="11.2" fill="#5297b0"/><polygon points="13.35,0.3 24.55,-11.2 24.55,0.3 13.35,11.5" fill="#0f6a87"/><g stroke="#d9eaf0" stroke-width="0.6" fill="#f4fafc"><line x1="-8" y1="-9.0" x2="3.5" y2="-9.0"/><polygon stroke="none" points="-8.5,-9.0 -5.6,-10.2 -6.1,-7.7"/><line x1="0.8" y1="-9.7" x2="12.6" y2="-9.7"/><polygon stroke="none" points="13.1,-9.7 10.2,-10.9 10.7,-8.4"/><line x1="-13.4" y1="-3.8" x2="-1.5" y2="-3.8"/><polygon stroke="none" points="-13.9,-3.8 -11.0,-5.0 -11.5,-2.5"/><line x1="0.8" y1="-6.1" x2="11.3" y2="-6.1"/><polygon stroke="none" points="11.8,-6.1 8.9,-7.3 9.4,-4.8"/></g></g>
<g transform="translate(1082,44.5)"><polygon points="-7.5,-18.4 26.2,-18.1 21.8,2.4 -12.6,2" fill="#8dbccc"/><polygon points="-5.6,-15.5 22.2,-15.5 18.9,-0.1 -8.6,-0.1" fill="#5299b1"/><polygon points="26.2,-18.1 27.2,-16.6 23.3,2.8 21.8,2.4" fill="#0f6a87"/><polygon points="-12.6,2 21.8,2.4 21.4,3.5 -12.6,3.5" fill="#4d96ae"/><polygon points="-12.6,3.5 21.4,3.5 10.5,15.6 -26.9,15.2" fill="#8dbccc"/><polygon points="-13,4.2 21,4.2 16.3,8.6 -18.4,8.6" fill="#6da8bc"/><polygon points="-26.9,15.2 10.5,15.6 10.5,18.5 -26.9,17.8" fill="#4d96ae"/><polygon points="21.4,3.5 22.2,4.6 10.8,18.5 10.5,18.5 10.5,15.6" fill="#0f6a87"/><path d="M-3,10.2 l-4.5,0.6 l3.8,1.6 l-4.6,1.2" stroke="#4d96ae" stroke-width="0.9" fill="none"/></g>
<g transform="translate(1293.2,35.6)"><g transform="translate(0,0.5)"><polygon points="-24.9,8.9 -8.4,-14.9 24.9,-15.2 11,8.9" fill="#8dbccc"/><rect x="-24.9" y="8.9" width="35.9" height="8.2" fill="#5297b0"/><polygon points="11,8.9 24.9,-15.2 24.9,1 11,17.1" fill="#0f6a87"/><polygon points="6.6,-19.4 7.7,-15.2 2.9,-10 -2.9,-3.4 -5.1,1 -9.5,1.1" fill="#0f6a87"/><polygon points="-15.7,1 0.4,-19.7 6.6,-19.4 -9.5,1.1" fill="#d0e2e9"/><polygon points="-15.7,1 -5.1,1 -5.1,7.5 -15.7,7.5" fill="#5297b0"/><polygon points="-5.1,1 -2.9,-3.4 -2.9,4 -5.1,7.5" fill="#0f6a87"/><g stroke="#bcd6df" stroke-width="0.6" fill="none"><line x1="3.2" y1="-4.9" x2="-3.2" y2="6.1"/><line x1="6.5" y1="-4.9" x2="0.1" y2="6.1"/><line x1="9.8" y1="-4.9" x2="3.4" y2="6.1"/><line x1="13.1" y1="-4.9" x2="6.7" y2="6.1"/><line x1="16.4" y1="-4.9" x2="10.0" y2="6.1"/><line x1="3.2" y1="-4.9" x2="16.4" y2="-4.9"/><line x1="1.6" y1="-2.2" x2="14.8" y2="-2.2"/><line x1="0.0" y1="0.6" x2="13.2" y2="0.6"/><line x1="-1.6" y1="3.3" x2="11.6" y2="3.3"/><line x1="-3.2" y1="6.1" x2="10.0" y2="6.1"/></g><circle cx="-5.9" cy="11.6" r="8.5" fill="#ffffff"/><text x="-5.9" y="15.6" font-size="11" text-anchor="middle" fill="#0a4a66" font-family="Liberation Sans, sans-serif">IP</text></g></g>
<g transform="translate(1410.5,126.8)"><g transform="translate(0.7,0)"><rect x="-14" y="3" width="24" height="9" fill="#1b7a95"/><polygon points="-16.8,-14.2 -10.9,-18 14.8,-18 11.7,-14.2" fill="#5fa0b6"/><polygon points="11.7,-14.2 14.8,-18 14.8,1.4 11.7,4.4" fill="#0f6a87"/><rect x="-17.1" y="-14.2" width="28.8" height="18.6" fill="#4d96ae"/><rect x="-15.2" y="-13.6" width="25.1" height="16.6" rx="1.6" fill="#d3e3e9"/><rect x="-15.2" y="4.4" width="25.8" height="1.4" fill="#2a7d97"/><polygon points="-16.8,7.9 -14.2,5.7 10.9,5.7 14.8,3.1 14.8,4.2 9.9,7.9" fill="#8dbccc"/><polygon points="-16.8,7.9 9.9,7.9 14.8,4.2 14.8,5.2 10.5,10.7 -14.2,10.7 -14.2,9 -16.8,9" fill="#1b7a95"/><polygon points="-22.1,16.3 -18.4,11 12.8,11 9.9,16.3" fill="#8dbccc"/><polygon points="-22.1,16.3 9.9,16.3 9.9,18.1 -22.1,18.1" fill="#5aa0b5"/><polygon points="9.9,16.3 12.8,11 12.8,12.4 9.9,18.1" fill="#0f6a87"/><polygon points="13.2,17.6 15.2,12.3 20.1,12.3 18.4,17.2" fill="#8dbccc"/><polygon points="18.4,17.2 20.1,12.3 20.1,13.6 18.6,17.6 13.2,17.9 13.2,17.6" fill="#3d8aa4"/><path d="M14.5,6.7 l6.5,0.6 q1,1.2 0.4,2.2 l-4,2.3" fill="none" stroke="#9cc3d2" stroke-width="0.6" opacity="0.85"/></g></g>
<g transform="translate(1438.6,214.9)"><g transform="translate(0.7,0)"><rect x="-14" y="3" width="24" height="9" fill="#1b7a95"/><polygon points="-16.8,-14.2 -10.9,-18 14.8,-18 11.7,-14.2" fill="#5fa0b6"/><polygon points="11.7,-14.2 14.8,-18 14.8,1.4 11.7,4.4" fill="#0f6a87"/><rect x="-17.1" y="-14.2" width="28.8" height="18.6" fill="#4d96ae"/><rect x="-15.2" y="-13.6" width="25.1" height="16.6" rx="1.6" fill="#d3e3e9"/><rect x="-15.2" y="4.4" width="25.8" height="1.4" fill="#2a7d97"/><polygon points="-16.8,7.9 -14.2,5.7 10.9,5.7 14.8,3.1 14.8,4.2 9.9,7.9" fill="#8dbccc"/><polygon points="-16.8,7.9 9.9,7.9 14.8,4.2 14.8,5.2 10.5,10.7 -14.2,10.7 -14.2,9 -16.8,9" fill="#1b7a95"/><polygon points="-22.1,16.3 -18.4,11 12.8,11 9.9,16.3" fill="#8dbccc"/><polygon points="-22.1,16.3 9.9,16.3 9.9,18.1 -22.1,18.1" fill="#5aa0b5"/><polygon points="9.9,16.3 12.8,11 12.8,12.4 9.9,18.1" fill="#0f6a87"/><polygon points="13.2,17.6 15.2,12.3 20.1,12.3 18.4,17.2" fill="#8dbccc"/><polygon points="18.4,17.2 20.1,12.3 20.1,13.6 18.6,17.6 13.2,17.9 13.2,17.6" fill="#3d8aa4"/><path d="M14.5,6.7 l6.5,0.6 q1,1.2 0.4,2.2 l-4,2.3" fill="none" stroke="#9cc3d2" stroke-width="0.6" opacity="0.85"/></g></g>
<g transform="translate(1349.7,268)"><g transform="translate(0.7,0)"><rect x="-14" y="3" width="24" height="9" fill="#1b7a95"/><polygon points="-16.8,-14.2 -10.9,-18 14.8,-18 11.7,-14.2" fill="#5fa0b6"/><polygon points="11.7,-14.2 14.8,-18 14.8,1.4 11.7,4.4" fill="#0f6a87"/><rect x="-17.1" y="-14.2" width="28.8" height="18.6" fill="#4d96ae"/><rect x="-15.2" y="-13.6" width="25.1" height="16.6" rx="1.6" fill="#d3e3e9"/><rect x="-15.2" y="4.4" width="25.8" height="1.4" fill="#2a7d97"/><polygon points="-16.8,7.9 -14.2,5.7 10.9,5.7 14.8,3.1 14.8,4.2 9.9,7.9" fill="#8dbccc"/><polygon points="-16.8,7.9 9.9,7.9 14.8,4.2 14.8,5.2 10.5,10.7 -14.2,10.7 -14.2,9 -16.8,9" fill="#1b7a95"/><polygon points="-22.1,16.3 -18.4,11 12.8,11 9.9,16.3" fill="#8dbccc"/><polygon points="-22.1,16.3 9.9,16.3 9.9,18.1 -22.1,18.1" fill="#5aa0b5"/><polygon points="9.9,16.3 12.8,11 12.8,12.4 9.9,18.1" fill="#0f6a87"/><polygon points="13.2,17.6 15.2,12.3 20.1,12.3 18.4,17.2" fill="#8dbccc"/><polygon points="18.4,17.2 20.1,12.3 20.1,13.6 18.6,17.6 13.2,17.9 13.2,17.6" fill="#3d8aa4"/><path d="M14.5,6.7 l6.5,0.6 q1,1.2 0.4,2.2 l-4,2.3" fill="none" stroke="#9cc3d2" stroke-width="0.6" opacity="0.85"/></g></g>
<g transform="translate(1228.5,225.2)"><g transform="translate(0.7,0)"><rect x="-14" y="3" width="24" height="9" fill="#1b7a95"/><polygon points="-16.8,-14.2 -10.9,-18 14.8,-18 11.7,-14.2" fill="#5fa0b6"/><polygon points="11.7,-14.2 14.8,-18 14.8,1.4 11.7,4.4" fill="#0f6a87"/><rect x="-17.1" y="-14.2" width="28.8" height="18.6" fill="#4d96ae"/><rect x="-15.2" y="-13.6" width="25.1" height="16.6" rx="1.6" fill="#d3e3e9"/><rect x="-15.2" y="4.4" width="25.8" height="1.4" fill="#2a7d97"/><polygon points="-16.8,7.9 -14.2,5.7 10.9,5.7 14.8,3.1 14.8,4.2 9.9,7.9" fill="#8dbccc"/><polygon points="-16.8,7.9 9.9,7.9 14.8,4.2 14.8,5.2 10.5,10.7 -14.2,10.7 -14.2,9 -16.8,9" fill="#1b7a95"/><polygon points="-22.1,16.3 -18.4,11 12.8,11 9.9,16.3" fill="#8dbccc"/><polygon points="-22.1,16.3 9.9,16.3 9.9,18.1 -22.1,18.1" fill="#5aa0b5"/><polygon points="9.9,16.3 12.8,11 12.8,12.4 9.9,18.1" fill="#0f6a87"/><polygon points="13.2,17.6 15.2,12.3 20.1,12.3 18.4,17.2" fill="#8dbccc"/><polygon points="18.4,17.2 20.1,12.3 20.1,13.6 18.6,17.6 13.2,17.9 13.2,17.6" fill="#3d8aa4"/><path d="M14.5,6.7 l6.5,0.6 q1,1.2 0.4,2.2 l-4,2.3" fill="none" stroke="#9cc3d2" stroke-width="0.6" opacity="0.85"/></g></g>
<g transform="translate(1089.6,264.2)"><polygon points="-24.55,0.3 -9.7,-11.55 24.55,-11.2 13.35,0.3" fill="#8dbccc"/><rect x="-24.55" y="0.3" width="37.9" height="11.2" fill="#5297b0"/><polygon points="13.35,0.3 24.55,-11.2 24.55,0.3 13.35,11.5" fill="#0f6a87"/><g stroke="#d9eaf0" stroke-width="0.6" fill="#f4fafc"><line x1="-8" y1="-9.0" x2="3.5" y2="-9.0"/><polygon stroke="none" points="-8.5,-9.0 -5.6,-10.2 -6.1,-7.7"/><line x1="0.8" y1="-9.7" x2="12.6" y2="-9.7"/><polygon stroke="none" points="13.1,-9.7 10.2,-10.9 10.7,-8.4"/><line x1="-13.4" y1="-3.8" x2="-1.5" y2="-3.8"/><polygon stroke="none" points="-13.9,-3.8 -11.0,-5.0 -11.5,-2.5"/><line x1="0.8" y1="-6.1" x2="11.3" y2="-6.1"/><polygon stroke="none" points="11.8,-6.1 8.9,-7.3 9.4,-4.8"/></g></g>
<g transform="translate(954.7,260.4)"><g transform="translate(0,0.5)"><polygon points="-24.9,8.9 -8.4,-14.9 24.9,-15.2 11,8.9" fill="#8dbccc"/><rect x="-24.9" y="8.9" width="35.9" height="8.2" fill="#5297b0"/><polygon points="11,8.9 24.9,-15.2 24.9,1 11,17.1" fill="#0f6a87"/><polygon points="6.6,-19.4 7.7,-15.2 2.9,-10 -2.9,-3.4 -5.1,1 -9.5,1.1" fill="#0f6a87"/><polygon points="-15.7,1 0.4,-19.7 6.6,-19.4 -9.5,1.1" fill="#d0e2e9"/><polygon points="-15.7,1 -5.1,1 -5.1,7.5 -15.7,7.5" fill="#5297b0"/><polygon points="-5.1,1 -2.9,-3.4 -2.9,4 -5.1,7.5" fill="#0f6a87"/><g stroke="#bcd6df" stroke-width="0.6" fill="none"><line x1="3.2" y1="-4.9" x2="-3.2" y2="6.1"/><line x1="6.5" y1="-4.9" x2="0.1" y2="6.1"/><line x1="9.8" y1="-4.9" x2="3.4" y2="6.1"/><line x1="13.1" y1="-4.9" x2="6.7" y2="6.1"/><line x1="16.4" y1="-4.9" x2="10.0" y2="6.1"/><line x1="3.2" y1="-4.9" x2="16.4" y2="-4.9"/><line x1="1.6" y1="-2.2" x2="14.8" y2="-2.2"/><line x1="0.0" y1="0.6" x2="13.2" y2="0.6"/><line x1="-1.6" y1="3.3" x2="11.6" y2="3.3"/><line x1="-3.2" y1="6.1" x2="10.0" y2="6.1"/></g><circle cx="-5.9" cy="11.6" r="8.5" fill="#ffffff"/><text x="-5.9" y="15.6" font-size="11" text-anchor="middle" fill="#0a4a66" font-family="Liberation Sans, sans-serif">IP</text></g></g>
<g transform="translate(1274.3,322)"><g transform="translate(0.7,0)"><rect x="-14" y="3" width="24" height="9" fill="#1b7a95"/><polygon points="-16.8,-14.2 -10.9,-18 14.8,-18 11.7,-14.2" fill="#5fa0b6"/><polygon points="11.7,-14.2 14.8,-18 14.8,1.4 11.7,4.4" fill="#0f6a87"/><rect x="-17.1" y="-14.2" width="28.8" height="18.6" fill="#4d96ae"/><rect x="-15.2" y="-13.6" width="25.1" height="16.6" rx="1.6" fill="#d3e3e9"/><rect x="-15.2" y="4.4" width="25.8" height="1.4" fill="#2a7d97"/><polygon points="-16.8,7.9 -14.2,5.7 10.9,5.7 14.8,3.1 14.8,4.2 9.9,7.9" fill="#8dbccc"/><polygon points="-16.8,7.9 9.9,7.9 14.8,4.2 14.8,5.2 10.5,10.7 -14.2,10.7 -14.2,9 -16.8,9" fill="#1b7a95"/><polygon points="-22.1,16.3 -18.4,11 12.8,11 9.9,16.3" fill="#8dbccc"/><polygon points="-22.1,16.3 9.9,16.3 9.9,18.1 -22.1,18.1" fill="#5aa0b5"/><polygon points="9.9,16.3 12.8,11 12.8,12.4 9.9,18.1" fill="#0f6a87"/><polygon points="13.2,17.6 15.2,12.3 20.1,12.3 18.4,17.2" fill="#8dbccc"/><polygon points="18.4,17.2 20.1,12.3 20.1,13.6 18.6,17.6 13.2,17.9 13.2,17.6" fill="#3d8aa4"/><path d="M14.5,6.7 l6.5,0.6 q1,1.2 0.4,2.2 l-4,2.3" fill="none" stroke="#9cc3d2" stroke-width="0.6" opacity="0.85"/></g></g>
<g transform="translate(762.7,440.8)"><polygon points="-18.1,-13.3 -12.5,-17.6 18,-17.6 14.2,-13.3" fill="#8dbccc"/><rect x="-18.1" y="-13.3" width="32.3" height="31" fill="#4591aa"/><polygon points="14.2,-13.3 18,-17.6 18,13.4 14.2,17.7" fill="#0f6a87"/><g stroke="#ffffff" stroke-width="1.1" fill="#ffffff"><line x1="5.1" y1="2.2" x2="10.5" y2="2.2"/><polygon stroke="none" points="12.1,2.2 8.9,4.3 8.9,0.1"/><line x1="3.0" y1="7.1" x2="6.9" y2="11.0"/><polygon stroke="none" points="8.0,12.1 4.3,11.3 7.2,8.4"/><line x1="-1.9" y1="9.2" x2="-1.9" y2="14.6"/><polygon stroke="none" points="-1.9,16.2 -4.0,13.0 0.2,13.0"/><line x1="-6.8" y1="7.1" x2="-10.7" y2="11.0"/><polygon stroke="none" points="-11.8,12.1 -11.0,8.4 -8.1,11.3"/><line x1="-8.9" y1="2.2" x2="-14.3" y2="2.2"/><polygon stroke="none" points="-15.9,2.2 -12.7,0.1 -12.7,4.3"/><line x1="-6.8" y1="-2.7" x2="-10.7" y2="-6.6"/><polygon stroke="none" points="-11.8,-7.7 -8.1,-6.9 -11.0,-4.0"/><line x1="-1.9" y1="-4.8" x2="-1.9" y2="-10.2"/><polygon stroke="none" points="-1.9,-11.8 0.2,-8.6 -4.0,-8.6"/><line x1="3.0" y1="-2.7" x2="6.9" y2="-6.6"/><polygon stroke="none" points="8.0,-7.7 7.2,-4.0 4.3,-6.9"/></g><circle cx="-1.9" cy="2.2" r="6.4" fill="url(#gsph)"/></g>
<g transform="translate(585.5,455.3)"><polygon points="-24.55,0.3 -9.7,-11.55 24.55,-11.2 13.35,0.3" fill="#8dbccc"/><rect x="-24.55" y="0.3" width="37.9" height="11.2" fill="#5297b0"/><polygon points="13.35,0.3 24.55,-11.2 24.55,0.3 13.35,11.5" fill="#0f6a87"/><g stroke="#d9eaf0" stroke-width="0.6" fill="#f4fafc"><line x1="-8" y1="-9.0" x2="3.5" y2="-9.0"/><polygon stroke="none" points="-8.5,-9.0 -5.6,-10.2 -6.1,-7.7"/><line x1="0.8" y1="-9.7" x2="12.6" y2="-9.7"/><polygon stroke="none" points="13.1,-9.7 10.2,-10.9 10.7,-8.4"/><line x1="-13.4" y1="-3.8" x2="-1.5" y2="-3.8"/><polygon stroke="none" points="-13.9,-3.8 -11.0,-5.0 -11.5,-2.5"/><line x1="0.8" y1="-6.1" x2="11.3" y2="-6.1"/><polygon stroke="none" points="11.8,-6.1 8.9,-7.3 9.4,-4.8"/></g></g>
<g transform="translate(931.6,456.8)"><polygon points="-24.55,0.3 -9.7,-11.55 24.55,-11.2 13.35,0.3" fill="#8dbccc"/><rect x="-24.55" y="0.3" width="37.9" height="11.2" fill="#5297b0"/><polygon points="13.35,0.3 24.55,-11.2 24.55,0.3 13.35,11.5" fill="#0f6a87"/><g stroke="#d9eaf0" stroke-width="0.6" fill="#f4fafc"><line x1="-8" y1="-9.0" x2="3.5" y2="-9.0"/><polygon stroke="none" points="-8.5,-9.0 -5.6,-10.2 -6.1,-7.7"/><line x1="0.8" y1="-9.7" x2="12.6" y2="-9.7"/><polygon stroke="none" points="13.1,-9.7 10.2,-10.9 10.7,-8.4"/><line x1="-13.4" y1="-3.8" x2="-1.5" y2="-3.8"/><polygon stroke="none" points="-13.9,-3.8 -11.0,-5.0 -11.5,-2.5"/><line x1="0.8" y1="-6.1" x2="11.3" y2="-6.1"/><polygon stroke="none" points="11.8,-6.1 8.9,-7.3 9.4,-4.8"/></g></g>
<g transform="translate(449.8,493)"><g transform="translate(0.7,0)"><rect x="-14" y="3" width="24" height="9" fill="#1b7a95"/><polygon points="-16.8,-14.2 -10.9,-18 14.8,-18 11.7,-14.2" fill="#5fa0b6"/><polygon points="11.7,-14.2 14.8,-18 14.8,1.4 11.7,4.4" fill="#0f6a87"/><rect x="-17.1" y="-14.2" width="28.8" height="18.6" fill="#4d96ae"/><rect x="-15.2" y="-13.6" width="25.1" height="16.6" rx="1.6" fill="#d3e3e9"/><rect x="-15.2" y="4.4" width="25.8" height="1.4" fill="#2a7d97"/><polygon points="-16.8,7.9 -14.2,5.7 10.9,5.7 14.8,3.1 14.8,4.2 9.9,7.9" fill="#8dbccc"/><polygon points="-16.8,7.9 9.9,7.9 14.8,4.2 14.8,5.2 10.5,10.7 -14.2,10.7 -14.2,9 -16.8,9" fill="#1b7a95"/><polygon points="-22.1,16.3 -18.4,11 12.8,11 9.9,16.3" fill="#8dbccc"/><polygon points="-22.1,16.3 9.9,16.3 9.9,18.1 -22.1,18.1" fill="#5aa0b5"/><polygon points="9.9,16.3 12.8,11 12.8,12.4 9.9,18.1" fill="#0f6a87"/><polygon points="13.2,17.6 15.2,12.3 20.1,12.3 18.4,17.2" fill="#8dbccc"/><polygon points="18.4,17.2 20.1,12.3 20.1,13.6 18.6,17.6 13.2,17.9 13.2,17.6" fill="#3d8aa4"/><path d="M14.5,6.7 l6.5,0.6 q1,1.2 0.4,2.2 l-4,2.3" fill="none" stroke="#9cc3d2" stroke-width="0.6" opacity="0.85"/></g></g>
<g transform="translate(530.1,568.1)"><g transform="translate(0.7,0)"><rect x="-14" y="3" width="24" height="9" fill="#1b7a95"/><polygon points="-16.8,-14.2 -10.9,-18 14.8,-18 11.7,-14.2" fill="#5fa0b6"/><polygon points="11.7,-14.2 14.8,-18 14.8,1.4 11.7,4.4" fill="#0f6a87"/><rect x="-17.1" y="-14.2" width="28.8" height="18.6" fill="#4d96ae"/><rect x="-15.2" y="-13.6" width="25.1" height="16.6" rx="1.6" fill="#d3e3e9"/><rect x="-15.2" y="4.4" width="25.8" height="1.4" fill="#2a7d97"/><polygon points="-16.8,7.9 -14.2,5.7 10.9,5.7 14.8,3.1 14.8,4.2 9.9,7.9" fill="#8dbccc"/><polygon points="-16.8,7.9 9.9,7.9 14.8,4.2 14.8,5.2 10.5,10.7 -14.2,10.7 -14.2,9 -16.8,9" fill="#1b7a95"/><polygon points="-22.1,16.3 -18.4,11 12.8,11 9.9,16.3" fill="#8dbccc"/><polygon points="-22.1,16.3 9.9,16.3 9.9,18.1 -22.1,18.1" fill="#5aa0b5"/><polygon points="9.9,16.3 12.8,11 12.8,12.4 9.9,18.1" fill="#0f6a87"/><polygon points="13.2,17.6 15.2,12.3 20.1,12.3 18.4,17.2" fill="#8dbccc"/><polygon points="18.4,17.2 20.1,12.3 20.1,13.6 18.6,17.6 13.2,17.9 13.2,17.6" fill="#3d8aa4"/><path d="M14.5,6.7 l6.5,0.6 q1,1.2 0.4,2.2 l-4,2.3" fill="none" stroke="#9cc3d2" stroke-width="0.6" opacity="0.85"/></g></g>
<g transform="translate(631.2,583.8)"><g transform="translate(0.7,0)"><rect x="-14" y="3" width="24" height="9" fill="#1b7a95"/><polygon points="-16.8,-14.2 -10.9,-18 14.8,-18 11.7,-14.2" fill="#5fa0b6"/><polygon points="11.7,-14.2 14.8,-18 14.8,1.4 11.7,4.4" fill="#0f6a87"/><rect x="-17.1" y="-14.2" width="28.8" height="18.6" fill="#4d96ae"/><rect x="-15.2" y="-13.6" width="25.1" height="16.6" rx="1.6" fill="#d3e3e9"/><rect x="-15.2" y="4.4" width="25.8" height="1.4" fill="#2a7d97"/><polygon points="-16.8,7.9 -14.2,5.7 10.9,5.7 14.8,3.1 14.8,4.2 9.9,7.9" fill="#8dbccc"/><polygon points="-16.8,7.9 9.9,7.9 14.8,4.2 14.8,5.2 10.5,10.7 -14.2,10.7 -14.2,9 -16.8,9" fill="#1b7a95"/><polygon points="-22.1,16.3 -18.4,11 12.8,11 9.9,16.3" fill="#8dbccc"/><polygon points="-22.1,16.3 9.9,16.3 9.9,18.1 -22.1,18.1" fill="#5aa0b5"/><polygon points="9.9,16.3 12.8,11 12.8,12.4 9.9,18.1" fill="#0f6a87"/><polygon points="13.2,17.6 15.2,12.3 20.1,12.3 18.4,17.2" fill="#8dbccc"/><polygon points="18.4,17.2 20.1,12.3 20.1,13.6 18.6,17.6 13.2,17.9 13.2,17.6" fill="#3d8aa4"/><path d="M14.5,6.7 l6.5,0.6 q1,1.2 0.4,2.2 l-4,2.3" fill="none" stroke="#9cc3d2" stroke-width="0.6" opacity="0.85"/></g></g>
<g transform="translate(720.1,585.5)"><g transform="translate(0,0.5)"><polygon points="-24.9,8.9 -8.4,-14.9 24.9,-15.2 11,8.9" fill="#8dbccc"/><rect x="-24.9" y="8.9" width="35.9" height="8.2" fill="#5297b0"/><polygon points="11,8.9 24.9,-15.2 24.9,1 11,17.1" fill="#0f6a87"/><polygon points="6.6,-19.4 7.7,-15.2 2.9,-10 -2.9,-3.4 -5.1,1 -9.5,1.1" fill="#0f6a87"/><polygon points="-15.7,1 0.4,-19.7 6.6,-19.4 -9.5,1.1" fill="#d0e2e9"/><polygon points="-15.7,1 -5.1,1 -5.1,7.5 -15.7,7.5" fill="#5297b0"/><polygon points="-5.1,1 -2.9,-3.4 -2.9,4 -5.1,7.5" fill="#0f6a87"/><g stroke="#bcd6df" stroke-width="0.6" fill="none"><line x1="3.2" y1="-4.9" x2="-3.2" y2="6.1"/><line x1="6.5" y1="-4.9" x2="0.1" y2="6.1"/><line x1="9.8" y1="-4.9" x2="3.4" y2="6.1"/><line x1="13.1" y1="-4.9" x2="6.7" y2="6.1"/><line x1="16.4" y1="-4.9" x2="10.0" y2="6.1"/><line x1="3.2" y1="-4.9" x2="16.4" y2="-4.9"/><line x1="1.6" y1="-2.2" x2="14.8" y2="-2.2"/><line x1="0.0" y1="0.6" x2="13.2" y2="0.6"/><line x1="-1.6" y1="3.3" x2="11.6" y2="3.3"/><line x1="-3.2" y1="6.1" x2="10.0" y2="6.1"/></g><circle cx="-5.9" cy="11.6" r="8.5" fill="#ffffff"/><text x="-5.9" y="15.6" font-size="11" text-anchor="middle" fill="#0a4a66" font-family="Liberation Sans, sans-serif">IP</text></g></g>
<g transform="translate(827.3,564.3)"><g transform="translate(0,0.5)"><polygon points="-24.9,8.9 -8.4,-14.9 24.9,-15.2 11,8.9" fill="#8dbccc"/><rect x="-24.9" y="8.9" width="35.9" height="8.2" fill="#5297b0"/><polygon points="11,8.9 24.9,-15.2 24.9,1 11,17.1" fill="#0f6a87"/><polygon points="6.6,-19.4 7.7,-15.2 2.9,-10 -2.9,-3.4 -5.1,1 -9.5,1.1" fill="#0f6a87"/><polygon points="-15.7,1 0.4,-19.7 6.6,-19.4 -9.5,1.1" fill="#d0e2e9"/><polygon points="-15.7,1 -5.1,1 -5.1,7.5 -15.7,7.5" fill="#5297b0"/><polygon points="-5.1,1 -2.9,-3.4 -2.9,4 -5.1,7.5" fill="#0f6a87"/><g stroke="#bcd6df" stroke-width="0.6" fill="none"><line x1="3.2" y1="-4.9" x2="-3.2" y2="6.1"/><line x1="6.5" y1="-4.9" x2="0.1" y2="6.1"/><line x1="9.8" y1="-4.9" x2="3.4" y2="6.1"/><line x1="13.1" y1="-4.9" x2="6.7" y2="6.1"/><line x1="16.4" y1="-4.9" x2="10.0" y2="6.1"/><line x1="3.2" y1="-4.9" x2="16.4" y2="-4.9"/><line x1="1.6" y1="-2.2" x2="14.8" y2="-2.2"/><line x1="0.0" y1="0.6" x2="13.2" y2="0.6"/><line x1="-1.6" y1="3.3" x2="11.6" y2="3.3"/><line x1="-3.2" y1="6.1" x2="10.0" y2="6.1"/></g><circle cx="-5.9" cy="11.6" r="8.5" fill="#ffffff"/><text x="-5.9" y="15.6" font-size="11" text-anchor="middle" fill="#0a4a66" font-family="Liberation Sans, sans-serif">IP</text></g></g>
<g transform="translate(906.9,614.6)"><polygon points="-7.5,-18.4 26.2,-18.1 21.8,2.4 -12.6,2" fill="#8dbccc"/><polygon points="-5.6,-15.5 22.2,-15.5 18.9,-0.1 -8.6,-0.1" fill="#5299b1"/><polygon points="26.2,-18.1 27.2,-16.6 23.3,2.8 21.8,2.4" fill="#0f6a87"/><polygon points="-12.6,2 21.8,2.4 21.4,3.5 -12.6,3.5" fill="#4d96ae"/><polygon points="-12.6,3.5 21.4,3.5 10.5,15.6 -26.9,15.2" fill="#8dbccc"/><polygon points="-13,4.2 21,4.2 16.3,8.6 -18.4,8.6" fill="#6da8bc"/><polygon points="-26.9,15.2 10.5,15.6 10.5,18.5 -26.9,17.8" fill="#4d96ae"/><polygon points="21.4,3.5 22.2,4.6 10.8,18.5 10.5,18.5 10.5,15.6" fill="#0f6a87"/><path d="M-3,10.2 l-4.5,0.6 l3.8,1.6 l-4.6,1.2" stroke="#4d96ae" stroke-width="0.9" fill="none"/></g>
<g transform="translate(1017.1,584.9)"><g transform="translate(0.7,0)"><rect x="-14" y="3" width="24" height="9" fill="#1b7a95"/><polygon points="-16.8,-14.2 -10.9,-18 14.8,-18 11.7,-14.2" fill="#5fa0b6"/><polygon points="11.7,-14.2 14.8,-18 14.8,1.4 11.7,4.4" fill="#0f6a87"/><rect x="-17.1" y="-14.2" width="28.8" height="18.6" fill="#4d96ae"/><rect x="-15.2" y="-13.6" width="25.1" height="16.6" rx="1.6" fill="#d3e3e9"/><rect x="-15.2" y="4.4" width="25.8" height="1.4" fill="#2a7d97"/><polygon points="-16.8,7.9 -14.2,5.7 10.9,5.7 14.8,3.1 14.8,4.2 9.9,7.9" fill="#8dbccc"/><polygon points="-16.8,7.9 9.9,7.9 14.8,4.2 14.8,5.2 10.5,10.7 -14.2,10.7 -14.2,9 -16.8,9" fill="#1b7a95"/><polygon points="-22.1,16.3 -18.4,11 12.8,11 9.9,16.3" fill="#8dbccc"/><polygon points="-22.1,16.3 9.9,16.3 9.9,18.1 -22.1,18.1" fill="#5aa0b5"/><polygon points="9.9,16.3 12.8,11 12.8,12.4 9.9,18.1" fill="#0f6a87"/><polygon points="13.2,17.6 15.2,12.3 20.1,12.3 18.4,17.2" fill="#8dbccc"/><polygon points="18.4,17.2 20.1,12.3 20.1,13.6 18.6,17.6 13.2,17.9 13.2,17.6" fill="#3d8aa4"/><path d="M14.5,6.7 l6.5,0.6 q1,1.2 0.4,2.2 l-4,2.3" fill="none" stroke="#9cc3d2" stroke-width="0.6" opacity="0.85"/></g></g>
<g transform="translate(1078,510.9)"><g transform="translate(0.7,0)"><rect x="-14" y="3" width="24" height="9" fill="#1b7a95"/><polygon points="-16.8,-14.2 -10.9,-18 14.8,-18 11.7,-14.2" fill="#5fa0b6"/><polygon points="11.7,-14.2 14.8,-18 14.8,1.4 11.7,4.4" fill="#0f6a87"/><rect x="-17.1" y="-14.2" width="28.8" height="18.6" fill="#4d96ae"/><rect x="-15.2" y="-13.6" width="25.1" height="16.6" rx="1.6" fill="#d3e3e9"/><rect x="-15.2" y="4.4" width="25.8" height="1.4" fill="#2a7d97"/><polygon points="-16.8,7.9 -14.2,5.7 10.9,5.7 14.8,3.1 14.8,4.2 9.9,7.9" fill="#8dbccc"/><polygon points="-16.8,7.9 9.9,7.9 14.8,4.2 14.8,5.2 10.5,10.7 -14.2,10.7 -14.2,9 -16.8,9" fill="#1b7a95"/><polygon points="-22.1,16.3 -18.4,11 12.8,11 9.9,16.3" fill="#8dbccc"/><polygon points="-22.1,16.3 9.9,16.3 9.9,18.1 -22.1,18.1" fill="#5aa0b5"/><polygon points="9.9,16.3 12.8,11 12.8,12.4 9.9,18.1" fill="#0f6a87"/><polygon points="13.2,17.6 15.2,12.3 20.1,12.3 18.4,17.2" fill="#8dbccc"/><polygon points="18.4,17.2 20.1,12.3 20.1,13.6 18.6,17.6 13.2,17.9 13.2,17.6" fill="#3d8aa4"/><path d="M14.5,6.7 l6.5,0.6 q1,1.2 0.4,2.2 l-4,2.3" fill="none" stroke="#9cc3d2" stroke-width="0.6" opacity="0.85"/></g></g>
<g transform="translate(1145,436.8)"><g transform="translate(0.7,0)"><rect x="-14" y="3" width="24" height="9" fill="#1b7a95"/><polygon points="-16.8,-14.2 -10.9,-18 14.8,-18 11.7,-14.2" fill="#5fa0b6"/><polygon points="11.7,-14.2 14.8,-18 14.8,1.4 11.7,4.4" fill="#0f6a87"/><rect x="-17.1" y="-14.2" width="28.8" height="18.6" fill="#4d96ae"/><rect x="-15.2" y="-13.6" width="25.1" height="16.6" rx="1.6" fill="#d3e3e9"/><rect x="-15.2" y="4.4" width="25.8" height="1.4" fill="#2a7d97"/><polygon points="-16.8,7.9 -14.2,5.7 10.9,5.7 14.8,3.1 14.8,4.2 9.9,7.9" fill="#8dbccc"/><polygon points="-16.8,7.9 9.9,7.9 14.8,4.2 14.8,5.2 10.5,10.7 -14.2,10.7 -14.2,9 -16.8,9" fill="#1b7a95"/><polygon points="-22.1,16.3 -18.4,11 12.8,11 9.9,16.3" fill="#8dbccc"/><polygon points="-22.1,16.3 9.9,16.3 9.9,18.1 -22.1,18.1" fill="#5aa0b5"/><polygon points="9.9,16.3 12.8,11 12.8,12.4 9.9,18.1" fill="#0f6a87"/><polygon points="13.2,17.6 15.2,12.3 20.1,12.3 18.4,17.2" fill="#8dbccc"/><polygon points="18.4,17.2 20.1,12.3 20.1,13.6 18.6,17.6 13.2,17.9 13.2,17.6" fill="#3d8aa4"/><path d="M14.5,6.7 l6.5,0.6 q1,1.2 0.4,2.2 l-4,2.3" fill="none" stroke="#9cc3d2" stroke-width="0.6" opacity="0.85"/></g></g>
<polygon points="272.6,80.8 279.3,92.8 265.9,92.8" fill="#62b84b"/>
<polygon points="262.5,125.4 269.2,137.4 255.8,137.4" fill="#62b84b"/>
<polygon points="183.0,123.6 189.7,135.6 176.3,135.6" fill="#62b84b"/>
<polygon points="213.7,146.2 220.4,158.2 207.0,158.2" fill="#62b84b"/>
<polygon points="138.0,200.5 144.7,212.5 131.3,212.5" fill="#62b84b"/>
<polygon points="206.0,184.7 212.7,196.7 199.3,196.7" fill="#62b84b"/>
<polygon points="224.7,246.6 231.4,258.6 218.0,258.6" fill="#62b84b"/>
<polygon points="234.6,219.6 241.3,231.6 227.9,231.6" fill="#62b84b"/>
<polygon points="151.1,314.2 157.8,326.2 144.4,326.2" fill="#62b84b"/>
<polygon points="168.7,306.1 175.4,318.1 162.0,318.1" fill="#62b84b"/>
<polygon points="288.9,212.3 295.6,224.3 282.2,224.3" fill="#62b84b"/>
<polygon points="355.0,291.1 361.7,303.1 348.3,303.1" fill="#62b84b"/>
<polygon points="463.0,249.8 469.7,261.8 456.3,261.8" fill="#62b84b"/>
<polygon points="425.5,291.7 432.2,303.7 418.8,303.7" fill="#62b84b"/>
<polygon points="403.7,183.0 410.4,195.0 397.0,195.0" fill="#62b84b"/>
<polygon points="450.3,198.4 457.0,210.4 443.6,210.4" fill="#62b84b"/>
<polygon points="472.7,114.6 479.4,126.6 466.0,126.6" fill="#62b84b"/>
<polygon points="485.9,166.1 492.6,178.1 479.2,178.1" fill="#62b84b"/>
<polygon points="564.0,142.5 570.7,154.5 557.3,154.5" fill="#62b84b"/>
<polygon points="529.4,178.2 536.1,190.2 522.7,190.2" fill="#62b84b"/>
<polygon points="602.3,211.6 609.0,223.6 595.6,223.6" fill="#62b84b"/>
<polygon points="544.3,212.7 551.0,224.7 537.6,224.7" fill="#62b84b"/>
<polygon points="448.1,327.6 454.8,339.6 441.4,339.6" fill="#62b84b"/>
<polygon points="527.2,321.7 533.9,333.7 520.5,333.7" fill="#62b84b"/>
<polygon points="604.5,310.7 611.2,322.7 597.8,322.7" fill="#62b84b"/>
<polygon points="735.5,270.0 742.2,282.0 728.8,282.0" fill="#62b84b"/>
<polygon points="784.4,241.7 791.1,253.7 777.7,253.7" fill="#62b84b"/>
<polygon points="838.3,154.5 845.0,166.5 831.6,166.5" fill="#62b84b"/>
<polygon points="789.3,284.3 796.0,296.3 782.6,296.3" fill="#62b84b"/>
<polygon points="860.9,322.9 867.6,334.9 854.2,334.9" fill="#62b84b"/>
<polygon points="905.7,129.0 912.4,141.0 899.0,141.0" fill="#62b84b"/>
<polygon points="939.7,126.8 946.4,138.8 933.0,138.8" fill="#62b84b"/>
<polygon points="1054.5,123.1 1061.2,135.1 1047.8,135.1" fill="#62b84b"/>
<polygon points="1114.0,121.3 1120.7,133.3 1107.3,133.3" fill="#62b84b"/>
<polygon points="1032.5,171.3 1039.2,183.3 1025.8,183.3" fill="#62b84b"/>
<polygon points="1063.2,217.4 1069.9,229.4 1056.5,229.4" fill="#62b84b"/>
<polygon points="1114.9,73.6 1121.6,85.6 1108.2,85.6" fill="#62b84b"/>
<polygon points="1128.7,87.3 1135.4,99.3 1122.0,99.3" fill="#62b84b"/>
<polygon points="1256.1,56.1 1262.8,68.1 1249.4,68.1" fill="#62b84b"/>
<polygon points="1202.3,94.5 1209.0,106.5 1195.6,106.5" fill="#62b84b"/>
<polygon points="1367.0,120.0 1373.7,132.0 1360.3,132.0" fill="#62b84b"/>
<polygon points="1211.5,120.9 1218.2,132.9 1204.8,132.9" fill="#62b84b"/>
<polygon points="1398.2,195.2 1404.9,207.2 1391.5,207.2" fill="#62b84b"/>
<polygon points="1211.5,135.6 1218.2,147.6 1204.8,147.6" fill="#62b84b"/>
<polygon points="1316.0,236.5 1322.7,248.5 1309.3,248.5" fill="#62b84b"/>
<polygon points="1202.4,150.8 1209.1,162.8 1195.7,162.8" fill="#62b84b"/>
<polygon points="1000.0,254.7 1006.7,266.7 993.3,266.7" fill="#62b84b"/>
<polygon points="1040.2,257.3 1046.9,269.3 1033.5,269.3" fill="#62b84b"/>
<polygon points="1188.4,230.6 1195.1,242.6 1181.7,242.6" fill="#62b84b"/>
<polygon points="1136.1,244.8 1142.8,256.8 1129.4,256.8" fill="#62b84b"/>
<polygon points="1233.9,304.0 1240.6,316.0 1227.2,316.0" fill="#62b84b"/>
<polygon points="1136.2,272.9 1142.9,284.9 1129.5,284.9" fill="#62b84b"/>
<polygon points="843.7,372.0 850.4,384.0 837.0,384.0" fill="#62b84b"/>
<polygon points="809.3,399.5 816.0,411.5 802.6,411.5" fill="#62b84b"/>
<polygon points="706.6,439.2 713.3,451.2 699.9,451.2" fill="#62b84b"/>
<polygon points="633.2,445.2 639.9,457.2 626.5,457.2" fill="#62b84b"/>
<polygon points="817.0,439.5 823.7,451.5 810.3,451.5" fill="#62b84b"/>
<polygon points="881.8,445.9 888.5,457.9 875.1,457.9" fill="#62b84b"/>
<polygon points="489.0,475.7 495.7,487.7 482.3,487.7" fill="#62b84b"/>
<polygon points="537.9,462.6 544.6,474.6 531.2,474.6" fill="#62b84b"/>
<polygon points="547.8,524.1 554.5,536.1 541.1,536.1" fill="#62b84b"/>
<polygon points="561.9,495.5 568.6,507.5 555.2,507.5" fill="#62b84b"/>
<polygon points="617.4,538.6 624.1,550.6 610.7,550.6" fill="#62b84b"/>
<polygon points="603.8,495.5 610.5,507.5 597.1,507.5" fill="#62b84b"/>
<polygon points="687.7,548.8 694.4,560.8 681.0,560.8" fill="#62b84b"/>
<polygon points="620.1,483.6 626.8,495.6 613.4,495.6" fill="#62b84b"/>
<polygon points="857.5,526.5 864.2,538.5 850.8,538.5" fill="#62b84b"/>
<polygon points="895.3,485.4 902.0,497.4 888.6,497.4" fill="#62b84b"/>
<polygon points="913.5,560.8 920.2,572.8 906.8,572.8" fill="#62b84b"/>
<polygon points="924.0,499.0 930.7,511.0 917.3,511.0" fill="#62b84b"/>
<polygon points="994.3,543.6 1001.0,555.6 987.6,555.6" fill="#62b84b"/>
<polygon points="960.7,494.2 967.4,506.2 954.0,506.2" fill="#62b84b"/>
<polygon points="1039.1,490.9 1045.8,502.9 1032.4,502.9" fill="#62b84b"/>
<polygon points="976.9,467.8 983.6,479.8 970.2,479.8" fill="#62b84b"/>
<polygon points="1103.0,434.9 1109.7,446.9 1096.3,446.9" fill="#62b84b"/>
<polygon points="977.2,445.9 983.9,457.9 970.5,457.9" fill="#62b84b"/>
<g font-size="12.7" fill="#000">
<rect x="574.96" y="283.25" width="86.07" height="23.5" fill="#f4f6fc"/>
<text x="579.16" y="300.00">10.255.0.5/30</text>
<rect x="604.56" y="339.65" width="86.07" height="23.5" fill="#f4f6fc"/>
<text x="608.76" y="356.40">10.255.0.1/30</text>
<rect x="534.00" y="372.20" width="90.01" height="39.6" fill="#f4f6fc"/>
<text x="538.40" y="388.80">Loopback0</text>
<text x="538.40" y="404.90">192.168.255.1</text>
<rect x="688.76" y="315.65" width="86.07" height="23.5" fill="#f4f6fc"/>
<text x="692.96" y="332.40">10.255.0.0/30</text>
<rect x="703.76" y="203.25" width="86.07" height="23.5" fill="#f4f6fc"/>
<text x="707.96" y="220.00">10.255.0.4/30</text>
<rect x="798.46" y="238.45" width="86.07" height="23.5" fill="#f4f6fc"/>
<text x="802.66" y="255.20">10.255.0.8/30</text>
<rect x="742.36" y="118.85" width="86.07" height="23.5" fill="#f4f6fc"/>
<text x="746.56" y="135.60">10.255.0.6/30</text>
<rect x="818.63" y="185.05" width="93.14" height="23.5" fill="#f4f6fc"/>
<text x="822.83" y="201.80">10.255.0.10/30</text>
<rect x="811.00" y="77.40" width="90.01" height="39.6" fill="#f4f6fc"/>
<text x="815.40" y="94.00">Loopback0</text>
<text x="815.40" y="110.10">192.168.255.3</text>
<rect x="843.16" y="286.25" width="86.07" height="23.5" fill="#f4f6fc"/>
<text x="847.36" y="303.00">10.255.0.9/30</text>
<rect x="774.36" y="328.35" width="86.07" height="23.5" fill="#f4f6fc"/>
<text x="778.56" y="345.10">10.255.0.2/30</text>
<rect x="913.00" y="327.00" width="90.01" height="39.6" fill="#f4f6fc"/>
<text x="917.40" y="343.60">Loopback0</text>
<text x="917.40" y="359.70">192.168.255.2</text>
<text x="351.50" y="80.20">Main Office</text>
<rect x="327.90" y="116.25" width="71.21" height="23.5" fill="#f4f6fc"/>
<text x="332.10" y="133.00">City A - HQ</text>
<text x="1141.96" y="190.50">City C - Branch 2</text>
<text x="755.01" y="528.40">City B - Branch 1</text>
<rect x="272.76" y="87.25" width="30.28" height="23.5" fill="#ffffff"/>
<text x="276.96" y="104.00">Fa0</text>
<rect x="264.16" y="131.45" width="40.87" height="23.5" fill="#ffffff"/>
<text x="268.36" y="148.20">Fa0/3</text>
<rect x="182.66" y="105.45" width="30.28" height="23.5" fill="#ffffff"/>
<text x="186.86" y="122.20">Fa0</text>
<rect x="213.96" y="127.45" width="40.87" height="23.5" fill="#ffffff"/>
<text x="218.16" y="144.20">Fa0/2</text>
<rect x="107.96" y="182.55" width="30.28" height="23.5" fill="#ffffff"/>
<text x="112.16" y="199.30">Fa0</text>
<rect x="165.06" y="166.25" width="40.87" height="23.5" fill="#ffffff"/>
<text x="169.26" y="183.00">Fa0/1</text>
<rect x="240.09" y="215.85" width="45.82" height="23.5" fill="#ffffff"/>
<text x="244.29" y="232.60">Gig0/1</text>
<rect x="237.13" y="225.15" width="47.94" height="23.5" fill="#ffffff"/>
<text x="241.33" y="241.90">Fa0/20</text>
<rect x="227.09" y="252.15" width="23.22" height="23.5" fill="#ffffff"/>
<text x="231.29" y="268.90">Fa</text>
<rect x="120.36" y="295.25" width="30.28" height="23.5" fill="#ffffff"/>
<text x="124.56" y="312.00">Fa0</text>
<rect x="145.99" y="287.45" width="23.22" height="23.5" fill="#ffffff"/>
<text x="150.19" y="304.20">Fa</text>
<rect x="296.50" y="296.25" width="56.41" height="23.5" fill="#ffffff"/>
<text x="300.70" y="313.00">Gig1/0/2</text>
<rect x="368.80" y="273.65" width="56.41" height="23.5" fill="#ffffff"/>
<text x="373.00" y="290.40">Gig1/0/3</text>
<rect x="417.29" y="231.35" width="45.82" height="23.5" fill="#ffffff"/>
<text x="421.49" y="248.10">Gig0/1</text>
<rect x="379.89" y="190.55" width="23.22" height="23.5" fill="#ffffff"/>
<text x="384.09" y="207.30">Fa</text>
<rect x="401.23" y="204.35" width="47.94" height="23.5" fill="#ffffff"/>
<text x="405.43" y="221.10">Fa0/20</text>
<rect x="474.86" y="95.25" width="30.28" height="23.5" fill="#ffffff"/>
<text x="479.06" y="112.00">Fa0</text>
<rect x="485.86" y="147.45" width="40.87" height="23.5" fill="#ffffff"/>
<text x="490.06" y="164.20">Fa0/1</text>
<rect x="565.96" y="148.25" width="30.28" height="23.5" fill="#ffffff"/>
<text x="570.16" y="165.00">Fa0</text>
<rect x="530.06" y="183.95" width="40.87" height="23.5" fill="#ffffff"/>
<text x="534.26" y="200.70">Fa0/2</text>
<rect x="545.16" y="218.25" width="40.87" height="23.5" fill="#ffffff"/>
<text x="549.36" y="235.00">Fa0/3</text>
<rect x="602.86" y="216.85" width="30.28" height="23.5" fill="#ffffff"/>
<text x="607.06" y="233.60">Fa0</text>
<rect x="391.60" y="309.45" width="56.41" height="23.5" fill="#ffffff"/>
<text x="395.80" y="326.20">Gig1/0/1</text>
<rect x="485.96" y="303.05" width="40.87" height="23.5" fill="#ffffff"/>
<text x="490.16" y="319.80">Fa0/0</text>
<rect x="604.91" y="316.75" width="41.59" height="23.5" fill="#ffffff"/>
<text x="609.11" y="333.50">Se1/0</text>
<rect x="735.85" y="276.45" width="43.30" height="23.5" fill="#ffffff"/>
<text x="752.35" y="293.20">Se0</text>
<circle cx="741.45" cy="288.30" r="4.5" fill="none" stroke="#1c1c1c" stroke-width="1.2"/><path d="M741.45,285.00 V288.30 H744.65" fill="none" stroke="#1c1c1c" stroke-width="1.1"/>
<rect x="789.10" y="265.35" width="31.00" height="23.5" fill="#ffffff"/>
<text x="793.30" y="282.10">Se1</text>
<rect x="753.10" y="223.55" width="31.00" height="23.5" fill="#ffffff"/>
<text x="757.30" y="240.30">Se2</text>
<rect x="783.46" y="136.55" width="53.89" height="23.5" fill="#ffffff"/>
<text x="799.96" y="153.30">Se1/0</text>
<circle cx="789.06" cy="148.40" r="4.5" fill="none" stroke="#1c1c1c" stroke-width="1.2"/><path d="M789.06,145.10 V148.40 H792.26" fill="none" stroke="#1c1c1c" stroke-width="1.1"/>
<rect x="858.86" y="304.45" width="53.89" height="23.5" fill="#ffffff"/>
<text x="875.36" y="321.20">Se1/0</text>
<circle cx="864.46" cy="316.30" r="4.5" fill="none" stroke="#1c1c1c" stroke-width="1.2"/><path d="M864.46,313.00 V316.30 H867.66" fill="none" stroke="#1c1c1c" stroke-width="1.1"/>
<rect x="802.96" y="353.25" width="40.87" height="23.5" fill="#ffffff"/>
<text x="807.16" y="370.00">Fa0/0</text>
<rect x="752.50" y="380.45" width="56.41" height="23.5" fill="#ffffff"/>
<text x="756.70" y="397.20">Gig1/0/1</text>
<rect x="939.70" y="133.45" width="56.41" height="23.5" fill="#ffffff"/>
<text x="943.90" y="150.20">Gig1/0/1</text>
<rect x="905.76" y="135.65" width="40.87" height="23.5" fill="#ffffff"/>
<text x="909.96" y="152.40">Fa0/0</text>
<rect x="1055.10" y="129.05" width="56.41" height="23.5" fill="#ffffff"/>
<text x="1059.30" y="145.80">Gig1/0/3</text>
<rect x="1114.09" y="128.35" width="45.82" height="23.5" fill="#ffffff"/>
<text x="1118.29" y="145.10">Gig0/1</text>
<rect x="973.50" y="176.45" width="56.41" height="23.5" fill="#ffffff"/>
<text x="977.70" y="193.20">Gig1/0/2</text>
<rect x="1016.09" y="223.35" width="45.82" height="23.5" fill="#ffffff"/>
<text x="1020.29" y="240.10">Gig0/1</text>
<rect x="1114.86" y="53.75" width="30.28" height="23.5" fill="#ffffff"/>
<text x="1119.06" y="70.50">Fa0</text>
<rect x="1129.40" y="68.25" width="40.80" height="23.5" fill="#ffffff"/>
<text x="1133.60" y="85.00">Fa0</text>
<rect x="1155.23" y="75.35" width="47.94" height="23.5" fill="#ffffff"/>
<text x="1159.43" y="92.10">Fa0/20</text>
<rect x="1232.99" y="37.05" width="23.22" height="23.5" fill="#ffffff"/>
<text x="1237.19" y="53.80">Fa</text>
<rect x="1211.86" y="127.25" width="40.87" height="23.5" fill="#ffffff"/>
<text x="1216.06" y="144.00">Fa0/1</text>
<rect x="1169.16" y="142.65" width="40.87" height="23.5" fill="#ffffff"/>
<text x="1173.36" y="159.40">Fa0/3</text>
<rect x="1161.16" y="156.15" width="40.87" height="23.5" fill="#ffffff"/>
<text x="1165.36" y="172.90">Fa0/4</text>
<rect x="1367.86" y="126.25" width="30.28" height="23.5" fill="#ffffff"/>
<text x="1372.06" y="143.00">Fa0</text>
<rect x="1367.86" y="201.05" width="30.28" height="23.5" fill="#ffffff"/>
<text x="1372.06" y="217.80">Fa0</text>
<rect x="1285.86" y="242.25" width="30.28" height="23.5" fill="#ffffff"/>
<text x="1290.06" y="259.00">Fa0</text>
<rect x="992.03" y="263.15" width="47.94" height="23.5" fill="#ffffff"/>
<text x="996.23" y="279.90">Fa0/20</text>
<rect x="976.49" y="262.15" width="23.22" height="23.5" fill="#ffffff"/>
<text x="980.69" y="278.90">Fa</text>
<rect x="1095.16" y="226.25" width="40.87" height="23.5" fill="#ffffff"/>
<text x="1099.36" y="243.00">Fa0/2</text>
<rect x="1136.36" y="254.25" width="40.87" height="23.5" fill="#ffffff"/>
<text x="1140.56" y="271.00">Fa0/1</text>
<rect x="1157.86" y="212.15" width="30.28" height="23.5" fill="#ffffff"/>
<text x="1162.06" y="228.90">Fa0</text>
<rect x="1233.86" y="285.15" width="30.28" height="23.5" fill="#ffffff"/>
<text x="1238.06" y="301.90">Fa0</text>
<rect x="707.70" y="444.95" width="56.41" height="23.5" fill="#ffffff"/>
<text x="711.90" y="461.70">Gig1/0/2</text>
<rect x="634.09" y="451.45" width="45.82" height="23.5" fill="#ffffff"/>
<text x="638.29" y="468.20">Gig0/1</text>
<rect x="620.03" y="465.35" width="47.94" height="23.5" fill="#ffffff"/>
<text x="624.23" y="482.10">Fa0/20</text>
<rect x="817.50" y="421.35" width="56.41" height="23.5" fill="#ffffff"/>
<text x="821.70" y="438.10">Gig1/0/3</text>
<rect x="881.69" y="427.65" width="45.82" height="23.5" fill="#ffffff"/>
<text x="885.89" y="444.40">Gig0/1</text>
<rect x="939.16" y="427.65" width="40.87" height="23.5" fill="#ffffff"/>
<text x="943.36" y="444.40">Fa0/1</text>
<rect x="977.06" y="448.95" width="40.87" height="23.5" fill="#ffffff"/>
<text x="981.26" y="465.70">Fa0/2</text>
<rect x="497.16" y="444.15" width="40.87" height="23.5" fill="#ffffff"/>
<text x="501.36" y="460.90">Fa0/1</text>
<rect x="458.96" y="456.85" width="30.28" height="23.5" fill="#ffffff"/>
<text x="463.16" y="473.60">Fa0</text>
<rect x="521.96" y="475.05" width="40.87" height="23.5" fill="#ffffff"/>
<text x="526.16" y="491.80">Fa0/3</text>
<rect x="517.86" y="505.25" width="30.28" height="23.5" fill="#ffffff"/>
<text x="522.06" y="522.00">Fa0</text>
<rect x="560.96" y="501.25" width="40.87" height="23.5" fill="#ffffff"/>
<text x="565.16" y="518.00">Fa0/2</text>
<rect x="586.86" y="544.05" width="30.28" height="23.5" fill="#ffffff"/>
<text x="591.06" y="560.80">Fa0</text>
<rect x="687.89" y="530.35" width="23.22" height="23.5" fill="#ffffff"/>
<text x="692.09" y="547.10">Fa</text>
<rect x="923.16" y="503.45" width="40.87" height="23.5" fill="#ffffff"/>
<text x="927.36" y="520.20">Fa0/3</text>
<rect x="896.93" y="491.35" width="47.94" height="23.5" fill="#ffffff"/>
<text x="901.13" y="508.10">Fa0/20</text>
<rect x="917.06" y="497.15" width="40.87" height="23.5" fill="#ffffff"/>
<text x="921.26" y="513.90">Fa0/4</text>
<rect x="857.99" y="532.25" width="23.22" height="23.5" fill="#ffffff"/>
<text x="862.19" y="549.00">Fa</text>
<rect x="914.56" y="566.35" width="30.28" height="23.5" fill="#ffffff"/>
<text x="918.76" y="583.10">Fa0</text>
<rect x="963.96" y="549.05" width="30.28" height="23.5" fill="#ffffff"/>
<text x="968.16" y="565.80">Fa0</text>
<rect x="1038.76" y="472.05" width="30.28" height="23.5" fill="#ffffff"/>
<text x="1042.96" y="488.80">Fa0</text>
<rect x="1072.86" y="416.05" width="30.28" height="23.5" fill="#ffffff"/>
<text x="1077.06" y="432.80">Fa0</text>
</g>
<polygon points="65.3,550.1 65.3,566.9 69.2,563.3 71.8,569 74.6,567.8 72,562.3 77,562.2" fill="#ffffff" stroke="#15152a" stroke-width="1.1" stroke-linejoin="miter"/>
</svg>
</body></html>
